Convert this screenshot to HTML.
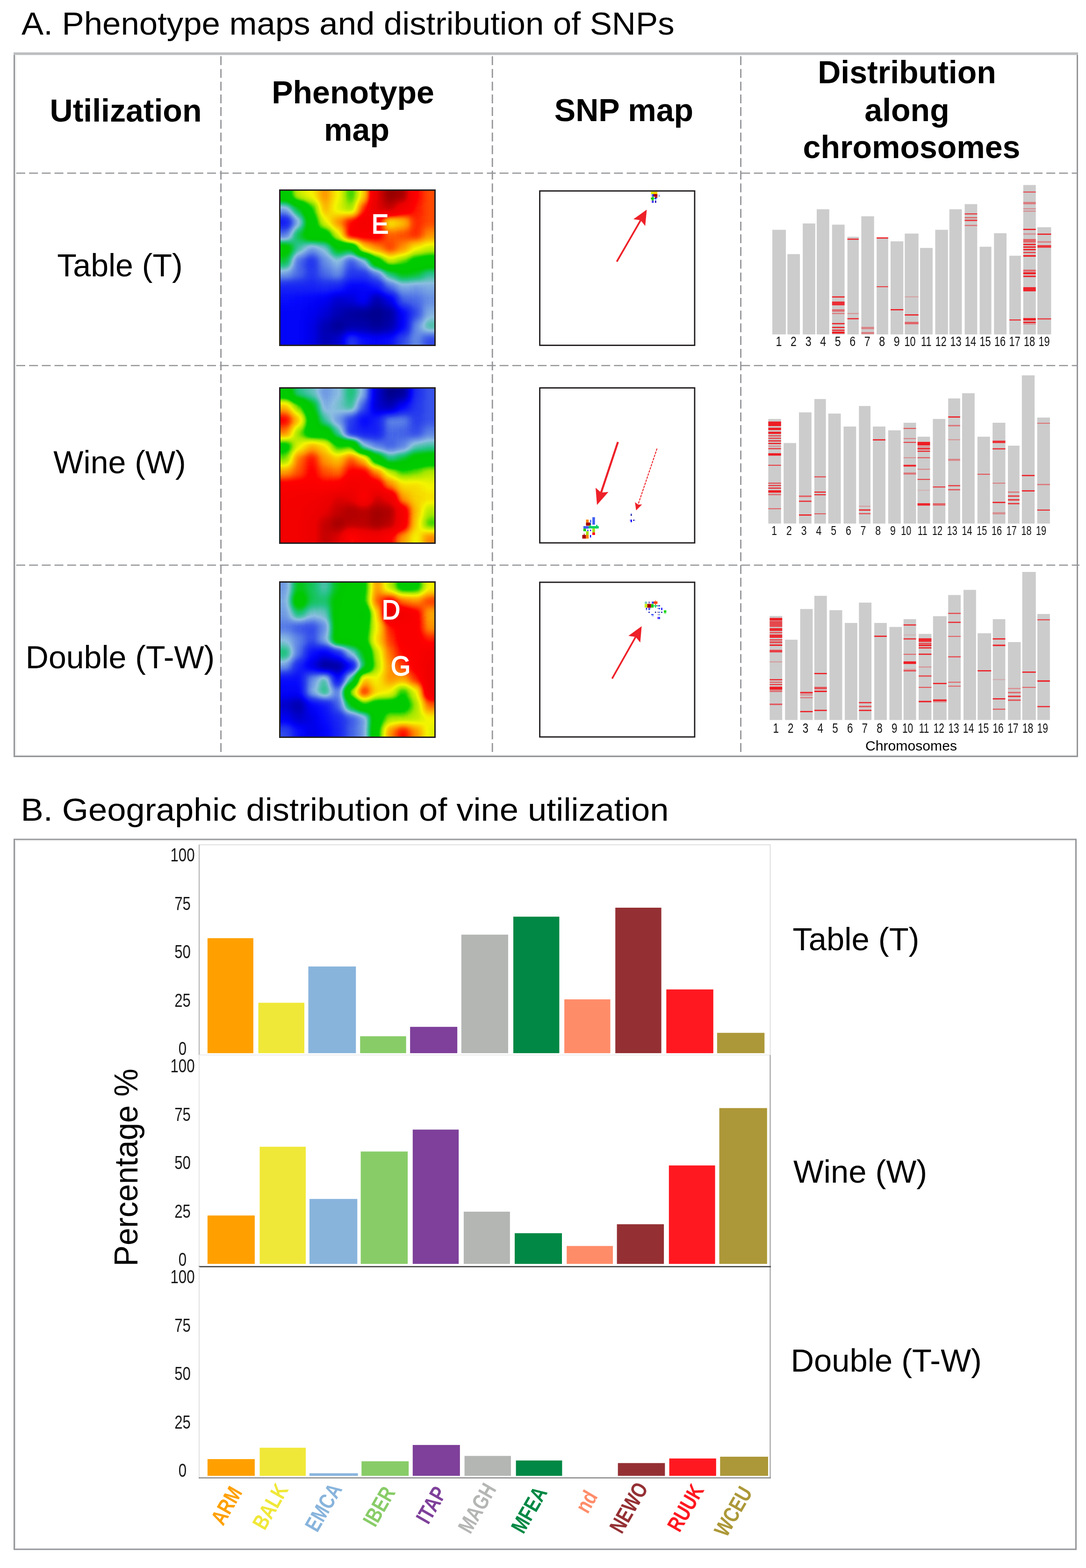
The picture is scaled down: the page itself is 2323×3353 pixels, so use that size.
<!DOCTYPE html>
<html lang="en"><head><meta charset="utf-8"><title>Phenotype maps and distribution of SNPs</title>
<style>
html,body{margin:0;padding:0;background:#fff;overflow:hidden}
svg{display:block}
text{font-family:'Liberation Sans', sans-serif}
</style></head><body>
<svg width="2323" height="3353" viewBox="0 0 2323 3353">
<rect width="2323" height="3353" fill="#fff"/>
<defs>
<filter id="cm" x="0" y="0" width="1" height="1" filterUnits="objectBoundingBox" color-interpolation-filters="sRGB"><feGaussianBlur stdDeviation="9"/><feComponentTransfer><feFuncR type="table" tableValues="0 0 0 0 0 0 0.02 0.069 0.118 0.167 0.255 0.353 0.451 0.549 0.353 0.157 0.078 0.029 0 0 0 0 0 0.314 0.627 0.794 0.961 0.975 0.989 1 1 1 1 0.98 0.961 0.941 0.922 0.838 0.755 0.672 0.588"/><feFuncG type="table" tableValues="0 0 0 0 0 0 0.031 0.107 0.183 0.259 0.374 0.497 0.621 0.745 0.754 0.763 0.771 0.779 0.786 0.791 0.795 0.799 0.804 0.853 0.902 0.931 0.961 0.828 0.695 0.551 0.368 0.184 0 0 0 0 0 0 0 0 0"/><feFuncB type="table" tableValues="0.545 0.62 0.695 0.769 0.856 0.946 0.991 0.969 0.948 0.926 0.913 0.903 0.893 0.882 0.713 0.544 0.34 0.127 0 0 0 0 0 0 0 0 0 0 0 0 0 0 0 0 0 0 0 0 0 0 0"/><feFuncA type="linear" slope="0" intercept="1"/></feComponentTransfer></filter>
<filter id="cmi" x="0" y="0" width="1" height="1" filterUnits="objectBoundingBox" color-interpolation-filters="sRGB"><feGaussianBlur stdDeviation="9"/><feComponentTransfer><feFuncR type="table" tableValues="0.588 0.672 0.755 0.838 0.922 0.941 0.961 0.98 1 1 1 1 0.989 0.975 0.961 0.794 0.627 0.314 0 0 0 0 0 0.029 0.078 0.157 0.353 0.549 0.451 0.353 0.255 0.167 0.118 0.069 0.02 0 0 0 0 0 0"/><feFuncG type="table" tableValues="0 0 0 0 0 0 0 0 0 0.184 0.368 0.551 0.695 0.828 0.961 0.931 0.902 0.853 0.804 0.799 0.795 0.791 0.786 0.779 0.771 0.763 0.754 0.745 0.621 0.497 0.374 0.259 0.183 0.107 0.031 0 0 0 0 0 0"/><feFuncB type="table" tableValues="0 0 0 0 0 0 0 0 0 0 0 0 0 0 0 0 0 0 0 0 0 0 0 0.127 0.34 0.544 0.713 0.882 0.893 0.903 0.913 0.926 0.948 0.969 0.991 0.946 0.856 0.769 0.695 0.62 0.545"/><feFuncA type="linear" slope="0" intercept="1"/></feComponentTransfer></filter>
<g id="g1" shape-rendering="crispEdges"><rect x="-55.8" y="-55.8" width="28.4" height="28.4" fill="#808080"/><rect x="-27.9" y="-55.8" width="28.4" height="28.4" fill="#808080"/><rect x="0" y="-55.8" width="28.4" height="28.4" fill="#808080"/><rect x="27.9" y="-55.8" width="28.4" height="28.4" fill="#9f9f9f"/><rect x="55.8" y="-55.8" width="28.4" height="28.4" fill="#a6a6a6"/><rect x="83.8" y="-55.8" width="28.4" height="28.4" fill="#b8b8b8"/><rect x="111.7" y="-55.8" width="28.4" height="28.4" fill="#a6a6a6"/><rect x="139.6" y="-55.8" width="28.4" height="28.4" fill="#8f8f8f"/><rect x="167.5" y="-55.8" width="28.4" height="28.4" fill="#adadad"/><rect x="195.4" y="-55.8" width="28.4" height="28.4" fill="#e8e8e8"/><rect x="223.3" y="-55.8" width="28.4" height="28.4" fill="#ffffff"/><rect x="251.2" y="-55.8" width="28.4" height="28.4" fill="#fafafa"/><rect x="279.2" y="-55.8" width="28.4" height="28.4" fill="#cccccc"/><rect x="307.1" y="-55.8" width="28.4" height="28.4" fill="#c2c2c2"/><rect x="335" y="-55.8" width="28.4" height="28.4" fill="#c2c2c2"/><rect x="362.9" y="-55.8" width="28.4" height="28.4" fill="#c2c2c2"/><rect x="-55.8" y="-27.9" width="28.4" height="28.4" fill="#808080"/><rect x="-27.9" y="-27.9" width="28.4" height="28.4" fill="#808080"/><rect x="0" y="-27.9" width="28.4" height="28.4" fill="#808080"/><rect x="27.9" y="-27.9" width="28.4" height="28.4" fill="#9f9f9f"/><rect x="55.8" y="-27.9" width="28.4" height="28.4" fill="#a6a6a6"/><rect x="83.8" y="-27.9" width="28.4" height="28.4" fill="#b8b8b8"/><rect x="111.7" y="-27.9" width="28.4" height="28.4" fill="#a6a6a6"/><rect x="139.6" y="-27.9" width="28.4" height="28.4" fill="#8f8f8f"/><rect x="167.5" y="-27.9" width="28.4" height="28.4" fill="#adadad"/><rect x="195.4" y="-27.9" width="28.4" height="28.4" fill="#e8e8e8"/><rect x="223.3" y="-27.9" width="28.4" height="28.4" fill="#ffffff"/><rect x="251.2" y="-27.9" width="28.4" height="28.4" fill="#fafafa"/><rect x="279.2" y="-27.9" width="28.4" height="28.4" fill="#cccccc"/><rect x="307.1" y="-27.9" width="28.4" height="28.4" fill="#c2c2c2"/><rect x="335" y="-27.9" width="28.4" height="28.4" fill="#c2c2c2"/><rect x="362.9" y="-27.9" width="28.4" height="28.4" fill="#c2c2c2"/><rect x="-55.8" y="0" width="28.4" height="28.4" fill="#808080"/><rect x="-27.9" y="0" width="28.4" height="28.4" fill="#808080"/><rect x="0" y="0" width="28.4" height="28.4" fill="#808080"/><rect x="27.9" y="0" width="28.4" height="28.4" fill="#9f9f9f"/><rect x="55.8" y="0" width="28.4" height="28.4" fill="#a6a6a6"/><rect x="83.8" y="0" width="28.4" height="28.4" fill="#b8b8b8"/><rect x="111.7" y="0" width="28.4" height="28.4" fill="#a6a6a6"/><rect x="139.6" y="0" width="28.4" height="28.4" fill="#8f8f8f"/><rect x="167.5" y="0" width="28.4" height="28.4" fill="#adadad"/><rect x="195.4" y="0" width="28.4" height="28.4" fill="#e8e8e8"/><rect x="223.3" y="0" width="28.4" height="28.4" fill="#ffffff"/><rect x="251.2" y="0" width="28.4" height="28.4" fill="#fafafa"/><rect x="279.2" y="0" width="28.4" height="28.4" fill="#cccccc"/><rect x="307.1" y="0" width="28.4" height="28.4" fill="#c2c2c2"/><rect x="335" y="0" width="28.4" height="28.4" fill="#c2c2c2"/><rect x="362.9" y="0" width="28.4" height="28.4" fill="#c2c2c2"/><rect x="-55.8" y="27.9" width="28.4" height="28.4" fill="#4e4e4e"/><rect x="-27.9" y="27.9" width="28.4" height="28.4" fill="#4e4e4e"/><rect x="0" y="27.9" width="28.4" height="28.4" fill="#4e4e4e"/><rect x="27.9" y="27.9" width="28.4" height="28.4" fill="#6b6b6b"/><rect x="55.8" y="27.9" width="28.4" height="28.4" fill="#8c8c8c"/><rect x="83.8" y="27.9" width="28.4" height="28.4" fill="#b2b2b2"/><rect x="111.7" y="27.9" width="28.4" height="28.4" fill="#a2a2a2"/><rect x="139.6" y="27.9" width="28.4" height="28.4" fill="#999999"/><rect x="167.5" y="27.9" width="28.4" height="28.4" fill="#c7c7c7"/><rect x="195.4" y="27.9" width="28.4" height="28.4" fill="#e8e8e8"/><rect x="223.3" y="27.9" width="28.4" height="28.4" fill="#f1f1f1"/><rect x="251.2" y="27.9" width="28.4" height="28.4" fill="#dadada"/><rect x="279.2" y="27.9" width="28.4" height="28.4" fill="#c9c9c9"/><rect x="307.1" y="27.9" width="28.4" height="28.4" fill="#c2c2c2"/><rect x="335" y="27.9" width="28.4" height="28.4" fill="#c2c2c2"/><rect x="362.9" y="27.9" width="28.4" height="28.4" fill="#c2c2c2"/><rect x="-55.8" y="55.8" width="28.4" height="28.4" fill="#2b2b2b"/><rect x="-27.9" y="55.8" width="28.4" height="28.4" fill="#2b2b2b"/><rect x="0" y="55.8" width="28.4" height="28.4" fill="#2b2b2b"/><rect x="27.9" y="55.8" width="28.4" height="28.4" fill="#505050"/><rect x="55.8" y="55.8" width="28.4" height="28.4" fill="#808080"/><rect x="83.8" y="55.8" width="28.4" height="28.4" fill="#a3a3a3"/><rect x="111.7" y="55.8" width="28.4" height="28.4" fill="#b8b8b8"/><rect x="139.6" y="55.8" width="28.4" height="28.4" fill="#cccccc"/><rect x="167.5" y="55.8" width="28.4" height="28.4" fill="#dadada"/><rect x="195.4" y="55.8" width="28.4" height="28.4" fill="#d1d1d1"/><rect x="223.3" y="55.8" width="28.4" height="28.4" fill="#a6a6a6"/><rect x="251.2" y="55.8" width="28.4" height="28.4" fill="#afafaf"/><rect x="279.2" y="55.8" width="28.4" height="28.4" fill="#c7c7c7"/><rect x="307.1" y="55.8" width="28.4" height="28.4" fill="#c2c2c2"/><rect x="335" y="55.8" width="28.4" height="28.4" fill="#c2c2c2"/><rect x="362.9" y="55.8" width="28.4" height="28.4" fill="#c2c2c2"/><rect x="-55.8" y="83.8" width="28.4" height="28.4" fill="#454545"/><rect x="-27.9" y="83.8" width="28.4" height="28.4" fill="#454545"/><rect x="0" y="83.8" width="28.4" height="28.4" fill="#454545"/><rect x="27.9" y="83.8" width="28.4" height="28.4" fill="#696969"/><rect x="55.8" y="83.8" width="28.4" height="28.4" fill="#808080"/><rect x="83.8" y="83.8" width="28.4" height="28.4" fill="#808080"/><rect x="111.7" y="83.8" width="28.4" height="28.4" fill="#a1a1a1"/><rect x="139.6" y="83.8" width="28.4" height="28.4" fill="#d1d1d1"/><rect x="167.5" y="83.8" width="28.4" height="28.4" fill="#d1d1d1"/><rect x="195.4" y="83.8" width="28.4" height="28.4" fill="#d1d1d1"/><rect x="223.3" y="83.8" width="28.4" height="28.4" fill="#bfbfbf"/><rect x="251.2" y="83.8" width="28.4" height="28.4" fill="#c2c2c2"/><rect x="279.2" y="83.8" width="28.4" height="28.4" fill="#c7c7c7"/><rect x="307.1" y="83.8" width="28.4" height="28.4" fill="#b8b8b8"/><rect x="335" y="83.8" width="28.4" height="28.4" fill="#b8b8b8"/><rect x="362.9" y="83.8" width="28.4" height="28.4" fill="#b8b8b8"/><rect x="-55.8" y="111.7" width="28.4" height="28.4" fill="#7b7b7b"/><rect x="-27.9" y="111.7" width="28.4" height="28.4" fill="#7b7b7b"/><rect x="0" y="111.7" width="28.4" height="28.4" fill="#7b7b7b"/><rect x="27.9" y="111.7" width="28.4" height="28.4" fill="#5c5c5c"/><rect x="55.8" y="111.7" width="28.4" height="28.4" fill="#4c4c4c"/><rect x="83.8" y="111.7" width="28.4" height="28.4" fill="#555555"/><rect x="111.7" y="111.7" width="28.4" height="28.4" fill="#737373"/><rect x="139.6" y="111.7" width="28.4" height="28.4" fill="#6f6f6f"/><rect x="167.5" y="111.7" width="28.4" height="28.4" fill="#ababab"/><rect x="195.4" y="111.7" width="28.4" height="28.4" fill="#b8b8b8"/><rect x="223.3" y="111.7" width="28.4" height="28.4" fill="#c4c4c4"/><rect x="251.2" y="111.7" width="28.4" height="28.4" fill="#b8b8b8"/><rect x="279.2" y="111.7" width="28.4" height="28.4" fill="#a6a6a6"/><rect x="307.1" y="111.7" width="28.4" height="28.4" fill="#9f9f9f"/><rect x="335" y="111.7" width="28.4" height="28.4" fill="#9f9f9f"/><rect x="362.9" y="111.7" width="28.4" height="28.4" fill="#9f9f9f"/><rect x="-55.8" y="139.6" width="28.4" height="28.4" fill="#696969"/><rect x="-27.9" y="139.6" width="28.4" height="28.4" fill="#696969"/><rect x="0" y="139.6" width="28.4" height="28.4" fill="#696969"/><rect x="27.9" y="139.6" width="28.4" height="28.4" fill="#424242"/><rect x="55.8" y="139.6" width="28.4" height="28.4" fill="#343434"/><rect x="83.8" y="139.6" width="28.4" height="28.4" fill="#494949"/><rect x="111.7" y="139.6" width="28.4" height="28.4" fill="#535353"/><rect x="139.6" y="139.6" width="28.4" height="28.4" fill="#3e3e3e"/><rect x="167.5" y="139.6" width="28.4" height="28.4" fill="#4f4f4f"/><rect x="195.4" y="139.6" width="28.4" height="28.4" fill="#828282"/><rect x="223.3" y="139.6" width="28.4" height="28.4" fill="#9e9e9e"/><rect x="251.2" y="139.6" width="28.4" height="28.4" fill="#949494"/><rect x="279.2" y="139.6" width="28.4" height="28.4" fill="#858585"/><rect x="307.1" y="139.6" width="28.4" height="28.4" fill="#808080"/><rect x="335" y="139.6" width="28.4" height="28.4" fill="#808080"/><rect x="362.9" y="139.6" width="28.4" height="28.4" fill="#808080"/><rect x="-55.8" y="167.5" width="28.4" height="28.4" fill="#4c4c4c"/><rect x="-27.9" y="167.5" width="28.4" height="28.4" fill="#4c4c4c"/><rect x="0" y="167.5" width="28.4" height="28.4" fill="#4c4c4c"/><rect x="27.9" y="167.5" width="28.4" height="28.4" fill="#424242"/><rect x="55.8" y="167.5" width="28.4" height="28.4" fill="#363636"/><rect x="83.8" y="167.5" width="28.4" height="28.4" fill="#424242"/><rect x="111.7" y="167.5" width="28.4" height="28.4" fill="#494949"/><rect x="139.6" y="167.5" width="28.4" height="28.4" fill="#363636"/><rect x="167.5" y="167.5" width="28.4" height="28.4" fill="#363636"/><rect x="195.4" y="167.5" width="28.4" height="28.4" fill="#454545"/><rect x="223.3" y="167.5" width="28.4" height="28.4" fill="#616161"/><rect x="251.2" y="167.5" width="28.4" height="28.4" fill="#6f6f6f"/><rect x="279.2" y="167.5" width="28.4" height="28.4" fill="#6b6b6b"/><rect x="307.1" y="167.5" width="28.4" height="28.4" fill="#5e5e5e"/><rect x="335" y="167.5" width="28.4" height="28.4" fill="#5e5e5e"/><rect x="362.9" y="167.5" width="28.4" height="28.4" fill="#5e5e5e"/><rect x="-55.8" y="195.4" width="28.4" height="28.4" fill="#2f2f2f"/><rect x="-27.9" y="195.4" width="28.4" height="28.4" fill="#2f2f2f"/><rect x="0" y="195.4" width="28.4" height="28.4" fill="#2f2f2f"/><rect x="27.9" y="195.4" width="28.4" height="28.4" fill="#2f2f2f"/><rect x="55.8" y="195.4" width="28.4" height="28.4" fill="#2f2f2f"/><rect x="83.8" y="195.4" width="28.4" height="28.4" fill="#313131"/><rect x="111.7" y="195.4" width="28.4" height="28.4" fill="#2f2f2f"/><rect x="139.6" y="195.4" width="28.4" height="28.4" fill="#242424"/><rect x="167.5" y="195.4" width="28.4" height="28.4" fill="#242424"/><rect x="195.4" y="195.4" width="28.4" height="28.4" fill="#2b2b2b"/><rect x="223.3" y="195.4" width="28.4" height="28.4" fill="#424242"/><rect x="251.2" y="195.4" width="28.4" height="28.4" fill="#4f4f4f"/><rect x="279.2" y="195.4" width="28.4" height="28.4" fill="#4c4c4c"/><rect x="307.1" y="195.4" width="28.4" height="28.4" fill="#4f4f4f"/><rect x="335" y="195.4" width="28.4" height="28.4" fill="#4f4f4f"/><rect x="362.9" y="195.4" width="28.4" height="28.4" fill="#4f4f4f"/><rect x="-55.8" y="223.3" width="28.4" height="28.4" fill="#282828"/><rect x="-27.9" y="223.3" width="28.4" height="28.4" fill="#282828"/><rect x="0" y="223.3" width="28.4" height="28.4" fill="#282828"/><rect x="27.9" y="223.3" width="28.4" height="28.4" fill="#262626"/><rect x="55.8" y="223.3" width="28.4" height="28.4" fill="#242424"/><rect x="83.8" y="223.3" width="28.4" height="28.4" fill="#202020"/><rect x="111.7" y="223.3" width="28.4" height="28.4" fill="#151515"/><rect x="139.6" y="223.3" width="28.4" height="28.4" fill="#191919"/><rect x="167.5" y="223.3" width="28.4" height="28.4" fill="#242424"/><rect x="195.4" y="223.3" width="28.4" height="28.4" fill="#0b0b0b"/><rect x="223.3" y="223.3" width="28.4" height="28.4" fill="#1d1d1d"/><rect x="251.2" y="223.3" width="28.4" height="28.4" fill="#404040"/><rect x="279.2" y="223.3" width="28.4" height="28.4" fill="#424242"/><rect x="307.1" y="223.3" width="28.4" height="28.4" fill="#494949"/><rect x="335" y="223.3" width="28.4" height="28.4" fill="#494949"/><rect x="362.9" y="223.3" width="28.4" height="28.4" fill="#494949"/><rect x="-55.8" y="251.2" width="28.4" height="28.4" fill="#242424"/><rect x="-27.9" y="251.2" width="28.4" height="28.4" fill="#242424"/><rect x="0" y="251.2" width="28.4" height="28.4" fill="#242424"/><rect x="27.9" y="251.2" width="28.4" height="28.4" fill="#242424"/><rect x="55.8" y="251.2" width="28.4" height="28.4" fill="#202020"/><rect x="83.8" y="251.2" width="28.4" height="28.4" fill="#191919"/><rect x="111.7" y="251.2" width="28.4" height="28.4" fill="#0e0e0e"/><rect x="139.6" y="251.2" width="28.4" height="28.4" fill="#070707"/><rect x="167.5" y="251.2" width="28.4" height="28.4" fill="#040404"/><rect x="195.4" y="251.2" width="28.4" height="28.4" fill="#000000"/><rect x="223.3" y="251.2" width="28.4" height="28.4" fill="#070707"/><rect x="251.2" y="251.2" width="28.4" height="28.4" fill="#242424"/><rect x="279.2" y="251.2" width="28.4" height="28.4" fill="#3b3b3b"/><rect x="307.1" y="251.2" width="28.4" height="28.4" fill="#505050"/><rect x="335" y="251.2" width="28.4" height="28.4" fill="#505050"/><rect x="362.9" y="251.2" width="28.4" height="28.4" fill="#505050"/><rect x="-55.8" y="279.2" width="28.4" height="28.4" fill="#242424"/><rect x="-27.9" y="279.2" width="28.4" height="28.4" fill="#242424"/><rect x="0" y="279.2" width="28.4" height="28.4" fill="#242424"/><rect x="27.9" y="279.2" width="28.4" height="28.4" fill="#242424"/><rect x="55.8" y="279.2" width="28.4" height="28.4" fill="#1d1d1d"/><rect x="83.8" y="279.2" width="28.4" height="28.4" fill="#0e0e0e"/><rect x="111.7" y="279.2" width="28.4" height="28.4" fill="#040404"/><rect x="139.6" y="279.2" width="28.4" height="28.4" fill="#0b0b0b"/><rect x="167.5" y="279.2" width="28.4" height="28.4" fill="#0b0b0b"/><rect x="195.4" y="279.2" width="28.4" height="28.4" fill="#040404"/><rect x="223.3" y="279.2" width="28.4" height="28.4" fill="#0b0b0b"/><rect x="251.2" y="279.2" width="28.4" height="28.4" fill="#242424"/><rect x="279.2" y="279.2" width="28.4" height="28.4" fill="#494949"/><rect x="307.1" y="279.2" width="28.4" height="28.4" fill="#5c5c5c"/><rect x="335" y="279.2" width="28.4" height="28.4" fill="#5c5c5c"/><rect x="362.9" y="279.2" width="28.4" height="28.4" fill="#5c5c5c"/><rect x="-55.8" y="307.1" width="28.4" height="28.4" fill="#242424"/><rect x="-27.9" y="307.1" width="28.4" height="28.4" fill="#242424"/><rect x="0" y="307.1" width="28.4" height="28.4" fill="#242424"/><rect x="27.9" y="307.1" width="28.4" height="28.4" fill="#242424"/><rect x="55.8" y="307.1" width="28.4" height="28.4" fill="#1d1d1d"/><rect x="83.8" y="307.1" width="28.4" height="28.4" fill="#0e0e0e"/><rect x="111.7" y="307.1" width="28.4" height="28.4" fill="#151515"/><rect x="139.6" y="307.1" width="28.4" height="28.4" fill="#363636"/><rect x="167.5" y="307.1" width="28.4" height="28.4" fill="#282828"/><rect x="195.4" y="307.1" width="28.4" height="28.4" fill="#242424"/><rect x="223.3" y="307.1" width="28.4" height="28.4" fill="#282828"/><rect x="251.2" y="307.1" width="28.4" height="28.4" fill="#3b3b3b"/><rect x="279.2" y="307.1" width="28.4" height="28.4" fill="#494949"/><rect x="307.1" y="307.1" width="28.4" height="28.4" fill="#3b3b3b"/><rect x="335" y="307.1" width="28.4" height="28.4" fill="#3b3b3b"/><rect x="362.9" y="307.1" width="28.4" height="28.4" fill="#3b3b3b"/><rect x="-55.8" y="335" width="28.4" height="28.4" fill="#242424"/><rect x="-27.9" y="335" width="28.4" height="28.4" fill="#242424"/><rect x="0" y="335" width="28.4" height="28.4" fill="#242424"/><rect x="27.9" y="335" width="28.4" height="28.4" fill="#242424"/><rect x="55.8" y="335" width="28.4" height="28.4" fill="#1d1d1d"/><rect x="83.8" y="335" width="28.4" height="28.4" fill="#0e0e0e"/><rect x="111.7" y="335" width="28.4" height="28.4" fill="#151515"/><rect x="139.6" y="335" width="28.4" height="28.4" fill="#363636"/><rect x="167.5" y="335" width="28.4" height="28.4" fill="#282828"/><rect x="195.4" y="335" width="28.4" height="28.4" fill="#242424"/><rect x="223.3" y="335" width="28.4" height="28.4" fill="#282828"/><rect x="251.2" y="335" width="28.4" height="28.4" fill="#3b3b3b"/><rect x="279.2" y="335" width="28.4" height="28.4" fill="#494949"/><rect x="307.1" y="335" width="28.4" height="28.4" fill="#3b3b3b"/><rect x="335" y="335" width="28.4" height="28.4" fill="#3b3b3b"/><rect x="362.9" y="335" width="28.4" height="28.4" fill="#3b3b3b"/><rect x="-55.8" y="362.9" width="28.4" height="28.4" fill="#242424"/><rect x="-27.9" y="362.9" width="28.4" height="28.4" fill="#242424"/><rect x="0" y="362.9" width="28.4" height="28.4" fill="#242424"/><rect x="27.9" y="362.9" width="28.4" height="28.4" fill="#242424"/><rect x="55.8" y="362.9" width="28.4" height="28.4" fill="#1d1d1d"/><rect x="83.8" y="362.9" width="28.4" height="28.4" fill="#0e0e0e"/><rect x="111.7" y="362.9" width="28.4" height="28.4" fill="#151515"/><rect x="139.6" y="362.9" width="28.4" height="28.4" fill="#363636"/><rect x="167.5" y="362.9" width="28.4" height="28.4" fill="#282828"/><rect x="195.4" y="362.9" width="28.4" height="28.4" fill="#242424"/><rect x="223.3" y="362.9" width="28.4" height="28.4" fill="#282828"/><rect x="251.2" y="362.9" width="28.4" height="28.4" fill="#3b3b3b"/><rect x="279.2" y="362.9" width="28.4" height="28.4" fill="#494949"/><rect x="307.1" y="362.9" width="28.4" height="28.4" fill="#3b3b3b"/><rect x="335" y="362.9" width="28.4" height="28.4" fill="#3b3b3b"/><rect x="362.9" y="362.9" width="28.4" height="28.4" fill="#3b3b3b"/></g>
<g id="g2" shape-rendering="crispEdges"><rect x="-55.8" y="-55.8" width="28.4" height="28.4" fill="#808080"/><rect x="-27.9" y="-55.8" width="28.4" height="28.4" fill="#808080"/><rect x="0" y="-55.8" width="28.4" height="28.4" fill="#808080"/><rect x="27.9" y="-55.8" width="28.4" height="28.4" fill="#9f9f9f"/><rect x="55.8" y="-55.8" width="28.4" height="28.4" fill="#a6a6a6"/><rect x="83.8" y="-55.8" width="28.4" height="28.4" fill="#b4b4b4"/><rect x="111.7" y="-55.8" width="28.4" height="28.4" fill="#adadad"/><rect x="139.6" y="-55.8" width="28.4" height="28.4" fill="#9c9c9c"/><rect x="167.5" y="-55.8" width="28.4" height="28.4" fill="#b0b0b0"/><rect x="195.4" y="-55.8" width="28.4" height="28.4" fill="#e8e8e8"/><rect x="223.3" y="-55.8" width="28.4" height="28.4" fill="#ffffff"/><rect x="251.2" y="-55.8" width="28.4" height="28.4" fill="#fafafa"/><rect x="279.2" y="-55.8" width="28.4" height="28.4" fill="#cccccc"/><rect x="307.1" y="-55.8" width="28.4" height="28.4" fill="#c2c2c2"/><rect x="335" y="-55.8" width="28.4" height="28.4" fill="#c2c2c2"/><rect x="362.9" y="-55.8" width="28.4" height="28.4" fill="#c2c2c2"/><rect x="-55.8" y="-27.9" width="28.4" height="28.4" fill="#808080"/><rect x="-27.9" y="-27.9" width="28.4" height="28.4" fill="#808080"/><rect x="0" y="-27.9" width="28.4" height="28.4" fill="#808080"/><rect x="27.9" y="-27.9" width="28.4" height="28.4" fill="#9f9f9f"/><rect x="55.8" y="-27.9" width="28.4" height="28.4" fill="#a6a6a6"/><rect x="83.8" y="-27.9" width="28.4" height="28.4" fill="#b4b4b4"/><rect x="111.7" y="-27.9" width="28.4" height="28.4" fill="#adadad"/><rect x="139.6" y="-27.9" width="28.4" height="28.4" fill="#9c9c9c"/><rect x="167.5" y="-27.9" width="28.4" height="28.4" fill="#b0b0b0"/><rect x="195.4" y="-27.9" width="28.4" height="28.4" fill="#e8e8e8"/><rect x="223.3" y="-27.9" width="28.4" height="28.4" fill="#ffffff"/><rect x="251.2" y="-27.9" width="28.4" height="28.4" fill="#fafafa"/><rect x="279.2" y="-27.9" width="28.4" height="28.4" fill="#cccccc"/><rect x="307.1" y="-27.9" width="28.4" height="28.4" fill="#c2c2c2"/><rect x="335" y="-27.9" width="28.4" height="28.4" fill="#c2c2c2"/><rect x="362.9" y="-27.9" width="28.4" height="28.4" fill="#c2c2c2"/><rect x="-55.8" y="0" width="28.4" height="28.4" fill="#808080"/><rect x="-27.9" y="0" width="28.4" height="28.4" fill="#808080"/><rect x="0" y="0" width="28.4" height="28.4" fill="#808080"/><rect x="27.9" y="0" width="28.4" height="28.4" fill="#9f9f9f"/><rect x="55.8" y="0" width="28.4" height="28.4" fill="#a6a6a6"/><rect x="83.8" y="0" width="28.4" height="28.4" fill="#b4b4b4"/><rect x="111.7" y="0" width="28.4" height="28.4" fill="#adadad"/><rect x="139.6" y="0" width="28.4" height="28.4" fill="#9c9c9c"/><rect x="167.5" y="0" width="28.4" height="28.4" fill="#b0b0b0"/><rect x="195.4" y="0" width="28.4" height="28.4" fill="#e8e8e8"/><rect x="223.3" y="0" width="28.4" height="28.4" fill="#ffffff"/><rect x="251.2" y="0" width="28.4" height="28.4" fill="#fafafa"/><rect x="279.2" y="0" width="28.4" height="28.4" fill="#cccccc"/><rect x="307.1" y="0" width="28.4" height="28.4" fill="#c2c2c2"/><rect x="335" y="0" width="28.4" height="28.4" fill="#c2c2c2"/><rect x="362.9" y="0" width="28.4" height="28.4" fill="#c2c2c2"/><rect x="-55.8" y="27.9" width="28.4" height="28.4" fill="#4e4e4e"/><rect x="-27.9" y="27.9" width="28.4" height="28.4" fill="#4e4e4e"/><rect x="0" y="27.9" width="28.4" height="28.4" fill="#4e4e4e"/><rect x="27.9" y="27.9" width="28.4" height="28.4" fill="#6b6b6b"/><rect x="55.8" y="27.9" width="28.4" height="28.4" fill="#8c8c8c"/><rect x="83.8" y="27.9" width="28.4" height="28.4" fill="#b0b0b0"/><rect x="111.7" y="27.9" width="28.4" height="28.4" fill="#a9a9a9"/><rect x="139.6" y="27.9" width="28.4" height="28.4" fill="#a1a1a1"/><rect x="167.5" y="27.9" width="28.4" height="28.4" fill="#c2c2c2"/><rect x="195.4" y="27.9" width="28.4" height="28.4" fill="#e8e8e8"/><rect x="223.3" y="27.9" width="28.4" height="28.4" fill="#f1f1f1"/><rect x="251.2" y="27.9" width="28.4" height="28.4" fill="#dadada"/><rect x="279.2" y="27.9" width="28.4" height="28.4" fill="#c9c9c9"/><rect x="307.1" y="27.9" width="28.4" height="28.4" fill="#c2c2c2"/><rect x="335" y="27.9" width="28.4" height="28.4" fill="#c2c2c2"/><rect x="362.9" y="27.9" width="28.4" height="28.4" fill="#c2c2c2"/><rect x="-55.8" y="55.8" width="28.4" height="28.4" fill="#313131"/><rect x="-27.9" y="55.8" width="28.4" height="28.4" fill="#313131"/><rect x="0" y="55.8" width="28.4" height="28.4" fill="#313131"/><rect x="27.9" y="55.8" width="28.4" height="28.4" fill="#505050"/><rect x="55.8" y="55.8" width="28.4" height="28.4" fill="#808080"/><rect x="83.8" y="55.8" width="28.4" height="28.4" fill="#a3a3a3"/><rect x="111.7" y="55.8" width="28.4" height="28.4" fill="#b4b4b4"/><rect x="139.6" y="55.8" width="28.4" height="28.4" fill="#c7c7c7"/><rect x="167.5" y="55.8" width="28.4" height="28.4" fill="#dadada"/><rect x="195.4" y="55.8" width="28.4" height="28.4" fill="#d1d1d1"/><rect x="223.3" y="55.8" width="28.4" height="28.4" fill="#b8b8b8"/><rect x="251.2" y="55.8" width="28.4" height="28.4" fill="#b8b8b8"/><rect x="279.2" y="55.8" width="28.4" height="28.4" fill="#c7c7c7"/><rect x="307.1" y="55.8" width="28.4" height="28.4" fill="#c2c2c2"/><rect x="335" y="55.8" width="28.4" height="28.4" fill="#c2c2c2"/><rect x="362.9" y="55.8" width="28.4" height="28.4" fill="#c2c2c2"/><rect x="-55.8" y="83.8" width="28.4" height="28.4" fill="#454545"/><rect x="-27.9" y="83.8" width="28.4" height="28.4" fill="#454545"/><rect x="0" y="83.8" width="28.4" height="28.4" fill="#454545"/><rect x="27.9" y="83.8" width="28.4" height="28.4" fill="#696969"/><rect x="55.8" y="83.8" width="28.4" height="28.4" fill="#808080"/><rect x="83.8" y="83.8" width="28.4" height="28.4" fill="#808080"/><rect x="111.7" y="83.8" width="28.4" height="28.4" fill="#a1a1a1"/><rect x="139.6" y="83.8" width="28.4" height="28.4" fill="#cccccc"/><rect x="167.5" y="83.8" width="28.4" height="28.4" fill="#d1d1d1"/><rect x="195.4" y="83.8" width="28.4" height="28.4" fill="#d1d1d1"/><rect x="223.3" y="83.8" width="28.4" height="28.4" fill="#bdbdbd"/><rect x="251.2" y="83.8" width="28.4" height="28.4" fill="#bfbfbf"/><rect x="279.2" y="83.8" width="28.4" height="28.4" fill="#c4c4c4"/><rect x="307.1" y="83.8" width="28.4" height="28.4" fill="#b8b8b8"/><rect x="335" y="83.8" width="28.4" height="28.4" fill="#b8b8b8"/><rect x="362.9" y="83.8" width="28.4" height="28.4" fill="#b8b8b8"/><rect x="-55.8" y="111.7" width="28.4" height="28.4" fill="#7b7b7b"/><rect x="-27.9" y="111.7" width="28.4" height="28.4" fill="#7b7b7b"/><rect x="0" y="111.7" width="28.4" height="28.4" fill="#7b7b7b"/><rect x="27.9" y="111.7" width="28.4" height="28.4" fill="#5c5c5c"/><rect x="55.8" y="111.7" width="28.4" height="28.4" fill="#4c4c4c"/><rect x="83.8" y="111.7" width="28.4" height="28.4" fill="#555555"/><rect x="111.7" y="111.7" width="28.4" height="28.4" fill="#737373"/><rect x="139.6" y="111.7" width="28.4" height="28.4" fill="#6f6f6f"/><rect x="167.5" y="111.7" width="28.4" height="28.4" fill="#ababab"/><rect x="195.4" y="111.7" width="28.4" height="28.4" fill="#b8b8b8"/><rect x="223.3" y="111.7" width="28.4" height="28.4" fill="#bfbfbf"/><rect x="251.2" y="111.7" width="28.4" height="28.4" fill="#b8b8b8"/><rect x="279.2" y="111.7" width="28.4" height="28.4" fill="#a6a6a6"/><rect x="307.1" y="111.7" width="28.4" height="28.4" fill="#a3a3a3"/><rect x="335" y="111.7" width="28.4" height="28.4" fill="#a3a3a3"/><rect x="362.9" y="111.7" width="28.4" height="28.4" fill="#a3a3a3"/><rect x="-55.8" y="139.6" width="28.4" height="28.4" fill="#696969"/><rect x="-27.9" y="139.6" width="28.4" height="28.4" fill="#696969"/><rect x="0" y="139.6" width="28.4" height="28.4" fill="#696969"/><rect x="27.9" y="139.6" width="28.4" height="28.4" fill="#424242"/><rect x="55.8" y="139.6" width="28.4" height="28.4" fill="#343434"/><rect x="83.8" y="139.6" width="28.4" height="28.4" fill="#494949"/><rect x="111.7" y="139.6" width="28.4" height="28.4" fill="#505050"/><rect x="139.6" y="139.6" width="28.4" height="28.4" fill="#3e3e3e"/><rect x="167.5" y="139.6" width="28.4" height="28.4" fill="#4f4f4f"/><rect x="195.4" y="139.6" width="28.4" height="28.4" fill="#828282"/><rect x="223.3" y="139.6" width="28.4" height="28.4" fill="#9e9e9e"/><rect x="251.2" y="139.6" width="28.4" height="28.4" fill="#949494"/><rect x="279.2" y="139.6" width="28.4" height="28.4" fill="#858585"/><rect x="307.1" y="139.6" width="28.4" height="28.4" fill="#808080"/><rect x="335" y="139.6" width="28.4" height="28.4" fill="#808080"/><rect x="362.9" y="139.6" width="28.4" height="28.4" fill="#808080"/><rect x="-55.8" y="167.5" width="28.4" height="28.4" fill="#494949"/><rect x="-27.9" y="167.5" width="28.4" height="28.4" fill="#494949"/><rect x="0" y="167.5" width="28.4" height="28.4" fill="#494949"/><rect x="27.9" y="167.5" width="28.4" height="28.4" fill="#3e3e3e"/><rect x="55.8" y="167.5" width="28.4" height="28.4" fill="#313131"/><rect x="83.8" y="167.5" width="28.4" height="28.4" fill="#3e3e3e"/><rect x="111.7" y="167.5" width="28.4" height="28.4" fill="#424242"/><rect x="139.6" y="167.5" width="28.4" height="28.4" fill="#313131"/><rect x="167.5" y="167.5" width="28.4" height="28.4" fill="#313131"/><rect x="195.4" y="167.5" width="28.4" height="28.4" fill="#454545"/><rect x="223.3" y="167.5" width="28.4" height="28.4" fill="#616161"/><rect x="251.2" y="167.5" width="28.4" height="28.4" fill="#6f6f6f"/><rect x="279.2" y="167.5" width="28.4" height="28.4" fill="#6b6b6b"/><rect x="307.1" y="167.5" width="28.4" height="28.4" fill="#636363"/><rect x="335" y="167.5" width="28.4" height="28.4" fill="#636363"/><rect x="362.9" y="167.5" width="28.4" height="28.4" fill="#636363"/><rect x="-55.8" y="195.4" width="28.4" height="28.4" fill="#2f2f2f"/><rect x="-27.9" y="195.4" width="28.4" height="28.4" fill="#2f2f2f"/><rect x="0" y="195.4" width="28.4" height="28.4" fill="#2f2f2f"/><rect x="27.9" y="195.4" width="28.4" height="28.4" fill="#2f2f2f"/><rect x="55.8" y="195.4" width="28.4" height="28.4" fill="#2f2f2f"/><rect x="83.8" y="195.4" width="28.4" height="28.4" fill="#313131"/><rect x="111.7" y="195.4" width="28.4" height="28.4" fill="#2f2f2f"/><rect x="139.6" y="195.4" width="28.4" height="28.4" fill="#242424"/><rect x="167.5" y="195.4" width="28.4" height="28.4" fill="#282828"/><rect x="195.4" y="195.4" width="28.4" height="28.4" fill="#2b2b2b"/><rect x="223.3" y="195.4" width="28.4" height="28.4" fill="#454545"/><rect x="251.2" y="195.4" width="28.4" height="28.4" fill="#555555"/><rect x="279.2" y="195.4" width="28.4" height="28.4" fill="#555555"/><rect x="307.1" y="195.4" width="28.4" height="28.4" fill="#5a5a5a"/><rect x="335" y="195.4" width="28.4" height="28.4" fill="#5a5a5a"/><rect x="362.9" y="195.4" width="28.4" height="28.4" fill="#5a5a5a"/><rect x="-55.8" y="223.3" width="28.4" height="28.4" fill="#282828"/><rect x="-27.9" y="223.3" width="28.4" height="28.4" fill="#282828"/><rect x="0" y="223.3" width="28.4" height="28.4" fill="#282828"/><rect x="27.9" y="223.3" width="28.4" height="28.4" fill="#262626"/><rect x="55.8" y="223.3" width="28.4" height="28.4" fill="#242424"/><rect x="83.8" y="223.3" width="28.4" height="28.4" fill="#202020"/><rect x="111.7" y="223.3" width="28.4" height="28.4" fill="#151515"/><rect x="139.6" y="223.3" width="28.4" height="28.4" fill="#191919"/><rect x="167.5" y="223.3" width="28.4" height="28.4" fill="#313131"/><rect x="195.4" y="223.3" width="28.4" height="28.4" fill="#121212"/><rect x="223.3" y="223.3" width="28.4" height="28.4" fill="#1d1d1d"/><rect x="251.2" y="223.3" width="28.4" height="28.4" fill="#494949"/><rect x="279.2" y="223.3" width="28.4" height="28.4" fill="#535353"/><rect x="307.1" y="223.3" width="28.4" height="28.4" fill="#555555"/><rect x="335" y="223.3" width="28.4" height="28.4" fill="#555555"/><rect x="362.9" y="223.3" width="28.4" height="28.4" fill="#555555"/><rect x="-55.8" y="251.2" width="28.4" height="28.4" fill="#242424"/><rect x="-27.9" y="251.2" width="28.4" height="28.4" fill="#242424"/><rect x="0" y="251.2" width="28.4" height="28.4" fill="#242424"/><rect x="27.9" y="251.2" width="28.4" height="28.4" fill="#242424"/><rect x="55.8" y="251.2" width="28.4" height="28.4" fill="#202020"/><rect x="83.8" y="251.2" width="28.4" height="28.4" fill="#191919"/><rect x="111.7" y="251.2" width="28.4" height="28.4" fill="#0e0e0e"/><rect x="139.6" y="251.2" width="28.4" height="28.4" fill="#070707"/><rect x="167.5" y="251.2" width="28.4" height="28.4" fill="#0b0b0b"/><rect x="195.4" y="251.2" width="28.4" height="28.4" fill="#040404"/><rect x="223.3" y="251.2" width="28.4" height="28.4" fill="#070707"/><rect x="251.2" y="251.2" width="28.4" height="28.4" fill="#282828"/><rect x="279.2" y="251.2" width="28.4" height="28.4" fill="#4f4f4f"/><rect x="307.1" y="251.2" width="28.4" height="28.4" fill="#636363"/><rect x="335" y="251.2" width="28.4" height="28.4" fill="#636363"/><rect x="362.9" y="251.2" width="28.4" height="28.4" fill="#636363"/><rect x="-55.8" y="279.2" width="28.4" height="28.4" fill="#242424"/><rect x="-27.9" y="279.2" width="28.4" height="28.4" fill="#242424"/><rect x="0" y="279.2" width="28.4" height="28.4" fill="#242424"/><rect x="27.9" y="279.2" width="28.4" height="28.4" fill="#242424"/><rect x="55.8" y="279.2" width="28.4" height="28.4" fill="#1d1d1d"/><rect x="83.8" y="279.2" width="28.4" height="28.4" fill="#0e0e0e"/><rect x="111.7" y="279.2" width="28.4" height="28.4" fill="#040404"/><rect x="139.6" y="279.2" width="28.4" height="28.4" fill="#0b0b0b"/><rect x="167.5" y="279.2" width="28.4" height="28.4" fill="#0b0b0b"/><rect x="195.4" y="279.2" width="28.4" height="28.4" fill="#040404"/><rect x="223.3" y="279.2" width="28.4" height="28.4" fill="#0b0b0b"/><rect x="251.2" y="279.2" width="28.4" height="28.4" fill="#282828"/><rect x="279.2" y="279.2" width="28.4" height="28.4" fill="#525252"/><rect x="307.1" y="279.2" width="28.4" height="28.4" fill="#6f6f6f"/><rect x="335" y="279.2" width="28.4" height="28.4" fill="#6f6f6f"/><rect x="362.9" y="279.2" width="28.4" height="28.4" fill="#6f6f6f"/><rect x="-55.8" y="307.1" width="28.4" height="28.4" fill="#242424"/><rect x="-27.9" y="307.1" width="28.4" height="28.4" fill="#242424"/><rect x="0" y="307.1" width="28.4" height="28.4" fill="#242424"/><rect x="27.9" y="307.1" width="28.4" height="28.4" fill="#242424"/><rect x="55.8" y="307.1" width="28.4" height="28.4" fill="#1d1d1d"/><rect x="83.8" y="307.1" width="28.4" height="28.4" fill="#0e0e0e"/><rect x="111.7" y="307.1" width="28.4" height="28.4" fill="#151515"/><rect x="139.6" y="307.1" width="28.4" height="28.4" fill="#363636"/><rect x="167.5" y="307.1" width="28.4" height="28.4" fill="#282828"/><rect x="195.4" y="307.1" width="28.4" height="28.4" fill="#242424"/><rect x="223.3" y="307.1" width="28.4" height="28.4" fill="#313131"/><rect x="251.2" y="307.1" width="28.4" height="28.4" fill="#494949"/><rect x="279.2" y="307.1" width="28.4" height="28.4" fill="#5a5a5a"/><rect x="307.1" y="307.1" width="28.4" height="28.4" fill="#454545"/><rect x="335" y="307.1" width="28.4" height="28.4" fill="#454545"/><rect x="362.9" y="307.1" width="28.4" height="28.4" fill="#454545"/><rect x="-55.8" y="335" width="28.4" height="28.4" fill="#242424"/><rect x="-27.9" y="335" width="28.4" height="28.4" fill="#242424"/><rect x="0" y="335" width="28.4" height="28.4" fill="#242424"/><rect x="27.9" y="335" width="28.4" height="28.4" fill="#242424"/><rect x="55.8" y="335" width="28.4" height="28.4" fill="#1d1d1d"/><rect x="83.8" y="335" width="28.4" height="28.4" fill="#0e0e0e"/><rect x="111.7" y="335" width="28.4" height="28.4" fill="#151515"/><rect x="139.6" y="335" width="28.4" height="28.4" fill="#363636"/><rect x="167.5" y="335" width="28.4" height="28.4" fill="#282828"/><rect x="195.4" y="335" width="28.4" height="28.4" fill="#242424"/><rect x="223.3" y="335" width="28.4" height="28.4" fill="#313131"/><rect x="251.2" y="335" width="28.4" height="28.4" fill="#494949"/><rect x="279.2" y="335" width="28.4" height="28.4" fill="#5a5a5a"/><rect x="307.1" y="335" width="28.4" height="28.4" fill="#454545"/><rect x="335" y="335" width="28.4" height="28.4" fill="#454545"/><rect x="362.9" y="335" width="28.4" height="28.4" fill="#454545"/><rect x="-55.8" y="362.9" width="28.4" height="28.4" fill="#242424"/><rect x="-27.9" y="362.9" width="28.4" height="28.4" fill="#242424"/><rect x="0" y="362.9" width="28.4" height="28.4" fill="#242424"/><rect x="27.9" y="362.9" width="28.4" height="28.4" fill="#242424"/><rect x="55.8" y="362.9" width="28.4" height="28.4" fill="#1d1d1d"/><rect x="83.8" y="362.9" width="28.4" height="28.4" fill="#0e0e0e"/><rect x="111.7" y="362.9" width="28.4" height="28.4" fill="#151515"/><rect x="139.6" y="362.9" width="28.4" height="28.4" fill="#363636"/><rect x="167.5" y="362.9" width="28.4" height="28.4" fill="#282828"/><rect x="195.4" y="362.9" width="28.4" height="28.4" fill="#242424"/><rect x="223.3" y="362.9" width="28.4" height="28.4" fill="#313131"/><rect x="251.2" y="362.9" width="28.4" height="28.4" fill="#494949"/><rect x="279.2" y="362.9" width="28.4" height="28.4" fill="#5a5a5a"/><rect x="307.1" y="362.9" width="28.4" height="28.4" fill="#454545"/><rect x="335" y="362.9" width="28.4" height="28.4" fill="#454545"/><rect x="362.9" y="362.9" width="28.4" height="28.4" fill="#454545"/></g>
<g id="g3" shape-rendering="crispEdges"><rect x="-55.8" y="-55.8" width="28.4" height="28.4" fill="#4c4c4c"/><rect x="-27.9" y="-55.8" width="28.4" height="28.4" fill="#4c4c4c"/><rect x="0" y="-55.8" width="28.4" height="28.4" fill="#4c4c4c"/><rect x="27.9" y="-55.8" width="28.4" height="28.4" fill="#6f6f6f"/><rect x="55.8" y="-55.8" width="28.4" height="28.4" fill="#666666"/><rect x="83.8" y="-55.8" width="28.4" height="28.4" fill="#5a5a5a"/><rect x="111.7" y="-55.8" width="28.4" height="28.4" fill="#6f6f6f"/><rect x="139.6" y="-55.8" width="28.4" height="28.4" fill="#808080"/><rect x="167.5" y="-55.8" width="28.4" height="28.4" fill="#878787"/><rect x="195.4" y="-55.8" width="28.4" height="28.4" fill="#b8b8b8"/><rect x="223.3" y="-55.8" width="28.4" height="28.4" fill="#9d9d9d"/><rect x="251.2" y="-55.8" width="28.4" height="28.4" fill="#858585"/><rect x="279.2" y="-55.8" width="28.4" height="28.4" fill="#878787"/><rect x="307.1" y="-55.8" width="28.4" height="28.4" fill="#a6a6a6"/><rect x="335" y="-55.8" width="28.4" height="28.4" fill="#a6a6a6"/><rect x="362.9" y="-55.8" width="28.4" height="28.4" fill="#a6a6a6"/><rect x="-55.8" y="-27.9" width="28.4" height="28.4" fill="#4c4c4c"/><rect x="-27.9" y="-27.9" width="28.4" height="28.4" fill="#4c4c4c"/><rect x="0" y="-27.9" width="28.4" height="28.4" fill="#4c4c4c"/><rect x="27.9" y="-27.9" width="28.4" height="28.4" fill="#6f6f6f"/><rect x="55.8" y="-27.9" width="28.4" height="28.4" fill="#666666"/><rect x="83.8" y="-27.9" width="28.4" height="28.4" fill="#5a5a5a"/><rect x="111.7" y="-27.9" width="28.4" height="28.4" fill="#6f6f6f"/><rect x="139.6" y="-27.9" width="28.4" height="28.4" fill="#808080"/><rect x="167.5" y="-27.9" width="28.4" height="28.4" fill="#878787"/><rect x="195.4" y="-27.9" width="28.4" height="28.4" fill="#b8b8b8"/><rect x="223.3" y="-27.9" width="28.4" height="28.4" fill="#9d9d9d"/><rect x="251.2" y="-27.9" width="28.4" height="28.4" fill="#858585"/><rect x="279.2" y="-27.9" width="28.4" height="28.4" fill="#878787"/><rect x="307.1" y="-27.9" width="28.4" height="28.4" fill="#a6a6a6"/><rect x="335" y="-27.9" width="28.4" height="28.4" fill="#a6a6a6"/><rect x="362.9" y="-27.9" width="28.4" height="28.4" fill="#a6a6a6"/><rect x="-55.8" y="0" width="28.4" height="28.4" fill="#4c4c4c"/><rect x="-27.9" y="0" width="28.4" height="28.4" fill="#4c4c4c"/><rect x="0" y="0" width="28.4" height="28.4" fill="#4c4c4c"/><rect x="27.9" y="0" width="28.4" height="28.4" fill="#6f6f6f"/><rect x="55.8" y="0" width="28.4" height="28.4" fill="#666666"/><rect x="83.8" y="0" width="28.4" height="28.4" fill="#5a5a5a"/><rect x="111.7" y="0" width="28.4" height="28.4" fill="#6f6f6f"/><rect x="139.6" y="0" width="28.4" height="28.4" fill="#808080"/><rect x="167.5" y="0" width="28.4" height="28.4" fill="#878787"/><rect x="195.4" y="0" width="28.4" height="28.4" fill="#b8b8b8"/><rect x="223.3" y="0" width="28.4" height="28.4" fill="#9d9d9d"/><rect x="251.2" y="0" width="28.4" height="28.4" fill="#858585"/><rect x="279.2" y="0" width="28.4" height="28.4" fill="#878787"/><rect x="307.1" y="0" width="28.4" height="28.4" fill="#a6a6a6"/><rect x="335" y="0" width="28.4" height="28.4" fill="#a6a6a6"/><rect x="362.9" y="0" width="28.4" height="28.4" fill="#a6a6a6"/><rect x="-55.8" y="27.9" width="28.4" height="28.4" fill="#4f4f4f"/><rect x="-27.9" y="27.9" width="28.4" height="28.4" fill="#4f4f4f"/><rect x="0" y="27.9" width="28.4" height="28.4" fill="#4f4f4f"/><rect x="27.9" y="27.9" width="28.4" height="28.4" fill="#808080"/><rect x="55.8" y="27.9" width="28.4" height="28.4" fill="#666666"/><rect x="83.8" y="27.9" width="28.4" height="28.4" fill="#636363"/><rect x="111.7" y="27.9" width="28.4" height="28.4" fill="#777777"/><rect x="139.6" y="27.9" width="28.4" height="28.4" fill="#858585"/><rect x="167.5" y="27.9" width="28.4" height="28.4" fill="#8a8a8a"/><rect x="195.4" y="27.9" width="28.4" height="28.4" fill="#bfbfbf"/><rect x="223.3" y="27.9" width="28.4" height="28.4" fill="#d1d1d1"/><rect x="251.2" y="27.9" width="28.4" height="28.4" fill="#bdbdbd"/><rect x="279.2" y="27.9" width="28.4" height="28.4" fill="#b8b8b8"/><rect x="307.1" y="27.9" width="28.4" height="28.4" fill="#c4c4c4"/><rect x="335" y="27.9" width="28.4" height="28.4" fill="#c4c4c4"/><rect x="362.9" y="27.9" width="28.4" height="28.4" fill="#c4c4c4"/><rect x="-55.8" y="55.8" width="28.4" height="28.4" fill="#4c4c4c"/><rect x="-27.9" y="55.8" width="28.4" height="28.4" fill="#4c4c4c"/><rect x="0" y="55.8" width="28.4" height="28.4" fill="#4c4c4c"/><rect x="27.9" y="55.8" width="28.4" height="28.4" fill="#636363"/><rect x="55.8" y="55.8" width="28.4" height="28.4" fill="#555555"/><rect x="83.8" y="55.8" width="28.4" height="28.4" fill="#575757"/><rect x="111.7" y="55.8" width="28.4" height="28.4" fill="#7b7b7b"/><rect x="139.6" y="55.8" width="28.4" height="28.4" fill="#808080"/><rect x="167.5" y="55.8" width="28.4" height="28.4" fill="#737373"/><rect x="195.4" y="55.8" width="28.4" height="28.4" fill="#ababab"/><rect x="223.3" y="55.8" width="28.4" height="28.4" fill="#ededed"/><rect x="251.2" y="55.8" width="28.4" height="28.4" fill="#dadada"/><rect x="279.2" y="55.8" width="28.4" height="28.4" fill="#d1d1d1"/><rect x="307.1" y="55.8" width="28.4" height="28.4" fill="#b4b4b4"/><rect x="335" y="55.8" width="28.4" height="28.4" fill="#b4b4b4"/><rect x="362.9" y="55.8" width="28.4" height="28.4" fill="#b4b4b4"/><rect x="-55.8" y="83.8" width="28.4" height="28.4" fill="#454545"/><rect x="-27.9" y="83.8" width="28.4" height="28.4" fill="#454545"/><rect x="0" y="83.8" width="28.4" height="28.4" fill="#454545"/><rect x="27.9" y="83.8" width="28.4" height="28.4" fill="#3e3e3e"/><rect x="55.8" y="83.8" width="28.4" height="28.4" fill="#3b3b3b"/><rect x="83.8" y="83.8" width="28.4" height="28.4" fill="#494949"/><rect x="111.7" y="83.8" width="28.4" height="28.4" fill="#7b7b7b"/><rect x="139.6" y="83.8" width="28.4" height="28.4" fill="#808080"/><rect x="167.5" y="83.8" width="28.4" height="28.4" fill="#808080"/><rect x="195.4" y="83.8" width="28.4" height="28.4" fill="#a6a6a6"/><rect x="223.3" y="83.8" width="28.4" height="28.4" fill="#c9c9c9"/><rect x="251.2" y="83.8" width="28.4" height="28.4" fill="#d1d1d1"/><rect x="279.2" y="83.8" width="28.4" height="28.4" fill="#d1d1d1"/><rect x="307.1" y="83.8" width="28.4" height="28.4" fill="#b8b8b8"/><rect x="335" y="83.8" width="28.4" height="28.4" fill="#b8b8b8"/><rect x="362.9" y="83.8" width="28.4" height="28.4" fill="#b8b8b8"/><rect x="-55.8" y="111.7" width="28.4" height="28.4" fill="#535353"/><rect x="-27.9" y="111.7" width="28.4" height="28.4" fill="#535353"/><rect x="0" y="111.7" width="28.4" height="28.4" fill="#535353"/><rect x="27.9" y="111.7" width="28.4" height="28.4" fill="#474747"/><rect x="55.8" y="111.7" width="28.4" height="28.4" fill="#3b3b3b"/><rect x="83.8" y="111.7" width="28.4" height="28.4" fill="#4f4f4f"/><rect x="111.7" y="111.7" width="28.4" height="28.4" fill="#7b7b7b"/><rect x="139.6" y="111.7" width="28.4" height="28.4" fill="#7b7b7b"/><rect x="167.5" y="111.7" width="28.4" height="28.4" fill="#858585"/><rect x="195.4" y="111.7" width="28.4" height="28.4" fill="#ababab"/><rect x="223.3" y="111.7" width="28.4" height="28.4" fill="#c4c4c4"/><rect x="251.2" y="111.7" width="28.4" height="28.4" fill="#d1d1d1"/><rect x="279.2" y="111.7" width="28.4" height="28.4" fill="#d1d1d1"/><rect x="307.1" y="111.7" width="28.4" height="28.4" fill="#c9c9c9"/><rect x="335" y="111.7" width="28.4" height="28.4" fill="#c9c9c9"/><rect x="362.9" y="111.7" width="28.4" height="28.4" fill="#c9c9c9"/><rect x="-55.8" y="139.6" width="28.4" height="28.4" fill="#636363"/><rect x="-27.9" y="139.6" width="28.4" height="28.4" fill="#636363"/><rect x="0" y="139.6" width="28.4" height="28.4" fill="#636363"/><rect x="27.9" y="139.6" width="28.4" height="28.4" fill="#444444"/><rect x="55.8" y="139.6" width="28.4" height="28.4" fill="#282828"/><rect x="83.8" y="139.6" width="28.4" height="28.4" fill="#202020"/><rect x="111.7" y="139.6" width="28.4" height="28.4" fill="#2f2f2f"/><rect x="139.6" y="139.6" width="28.4" height="28.4" fill="#535353"/><rect x="167.5" y="139.6" width="28.4" height="28.4" fill="#6f6f6f"/><rect x="195.4" y="139.6" width="28.4" height="28.4" fill="#9d9d9d"/><rect x="223.3" y="139.6" width="28.4" height="28.4" fill="#bdbdbd"/><rect x="251.2" y="139.6" width="28.4" height="28.4" fill="#cccccc"/><rect x="279.2" y="139.6" width="28.4" height="28.4" fill="#d1d1d1"/><rect x="307.1" y="139.6" width="28.4" height="28.4" fill="#dadada"/><rect x="335" y="139.6" width="28.4" height="28.4" fill="#dadada"/><rect x="362.9" y="139.6" width="28.4" height="28.4" fill="#dadada"/><rect x="-55.8" y="167.5" width="28.4" height="28.4" fill="#4c4c4c"/><rect x="-27.9" y="167.5" width="28.4" height="28.4" fill="#4c4c4c"/><rect x="0" y="167.5" width="28.4" height="28.4" fill="#4c4c4c"/><rect x="27.9" y="167.5" width="28.4" height="28.4" fill="#2f2f2f"/><rect x="55.8" y="167.5" width="28.4" height="28.4" fill="#1d1d1d"/><rect x="83.8" y="167.5" width="28.4" height="28.4" fill="#040404"/><rect x="111.7" y="167.5" width="28.4" height="28.4" fill="#070707"/><rect x="139.6" y="167.5" width="28.4" height="28.4" fill="#242424"/><rect x="167.5" y="167.5" width="28.4" height="28.4" fill="#666666"/><rect x="195.4" y="167.5" width="28.4" height="28.4" fill="#999999"/><rect x="223.3" y="167.5" width="28.4" height="28.4" fill="#b8b8b8"/><rect x="251.2" y="167.5" width="28.4" height="28.4" fill="#c4c4c4"/><rect x="279.2" y="167.5" width="28.4" height="28.4" fill="#d1d1d1"/><rect x="307.1" y="167.5" width="28.4" height="28.4" fill="#dfdfdf"/><rect x="335" y="167.5" width="28.4" height="28.4" fill="#dfdfdf"/><rect x="362.9" y="167.5" width="28.4" height="28.4" fill="#dfdfdf"/><rect x="-55.8" y="195.4" width="28.4" height="28.4" fill="#282828"/><rect x="-27.9" y="195.4" width="28.4" height="28.4" fill="#282828"/><rect x="0" y="195.4" width="28.4" height="28.4" fill="#282828"/><rect x="27.9" y="195.4" width="28.4" height="28.4" fill="#282828"/><rect x="55.8" y="195.4" width="28.4" height="28.4" fill="#494949"/><rect x="83.8" y="195.4" width="28.4" height="28.4" fill="#5c5c5c"/><rect x="111.7" y="195.4" width="28.4" height="28.4" fill="#242424"/><rect x="139.6" y="195.4" width="28.4" height="28.4" fill="#5e5e5e"/><rect x="167.5" y="195.4" width="28.4" height="28.4" fill="#afafaf"/><rect x="195.4" y="195.4" width="28.4" height="28.4" fill="#a6a6a6"/><rect x="223.3" y="195.4" width="28.4" height="28.4" fill="#b8b8b8"/><rect x="251.2" y="195.4" width="28.4" height="28.4" fill="#b4b4b4"/><rect x="279.2" y="195.4" width="28.4" height="28.4" fill="#c7c7c7"/><rect x="307.1" y="195.4" width="28.4" height="28.4" fill="#dfdfdf"/><rect x="335" y="195.4" width="28.4" height="28.4" fill="#dfdfdf"/><rect x="362.9" y="195.4" width="28.4" height="28.4" fill="#dfdfdf"/><rect x="-55.8" y="223.3" width="28.4" height="28.4" fill="#242424"/><rect x="-27.9" y="223.3" width="28.4" height="28.4" fill="#242424"/><rect x="0" y="223.3" width="28.4" height="28.4" fill="#242424"/><rect x="27.9" y="223.3" width="28.4" height="28.4" fill="#242424"/><rect x="55.8" y="223.3" width="28.4" height="28.4" fill="#4f4f4f"/><rect x="83.8" y="223.3" width="28.4" height="28.4" fill="#616161"/><rect x="111.7" y="223.3" width="28.4" height="28.4" fill="#454545"/><rect x="139.6" y="223.3" width="28.4" height="28.4" fill="#999999"/><rect x="167.5" y="223.3" width="28.4" height="28.4" fill="#c9c9c9"/><rect x="195.4" y="223.3" width="28.4" height="28.4" fill="#ababab"/><rect x="223.3" y="223.3" width="28.4" height="28.4" fill="#a6a6a6"/><rect x="251.2" y="223.3" width="28.4" height="28.4" fill="#8c8c8c"/><rect x="279.2" y="223.3" width="28.4" height="28.4" fill="#a3a3a3"/><rect x="307.1" y="223.3" width="28.4" height="28.4" fill="#dfdfdf"/><rect x="335" y="223.3" width="28.4" height="28.4" fill="#dfdfdf"/><rect x="362.9" y="223.3" width="28.4" height="28.4" fill="#dfdfdf"/><rect x="-55.8" y="251.2" width="28.4" height="28.4" fill="#151515"/><rect x="-27.9" y="251.2" width="28.4" height="28.4" fill="#151515"/><rect x="0" y="251.2" width="28.4" height="28.4" fill="#151515"/><rect x="27.9" y="251.2" width="28.4" height="28.4" fill="#0b0b0b"/><rect x="55.8" y="251.2" width="28.4" height="28.4" fill="#242424"/><rect x="83.8" y="251.2" width="28.4" height="28.4" fill="#2b2b2b"/><rect x="111.7" y="251.2" width="28.4" height="28.4" fill="#404040"/><rect x="139.6" y="251.2" width="28.4" height="28.4" fill="#6f6f6f"/><rect x="167.5" y="251.2" width="28.4" height="28.4" fill="#8c8c8c"/><rect x="195.4" y="251.2" width="28.4" height="28.4" fill="#808080"/><rect x="223.3" y="251.2" width="28.4" height="28.4" fill="#808080"/><rect x="251.2" y="251.2" width="28.4" height="28.4" fill="#808080"/><rect x="279.2" y="251.2" width="28.4" height="28.4" fill="#999999"/><rect x="307.1" y="251.2" width="28.4" height="28.4" fill="#bfbfbf"/><rect x="335" y="251.2" width="28.4" height="28.4" fill="#bfbfbf"/><rect x="362.9" y="251.2" width="28.4" height="28.4" fill="#bfbfbf"/><rect x="-55.8" y="279.2" width="28.4" height="28.4" fill="#202020"/><rect x="-27.9" y="279.2" width="28.4" height="28.4" fill="#202020"/><rect x="0" y="279.2" width="28.4" height="28.4" fill="#202020"/><rect x="27.9" y="279.2" width="28.4" height="28.4" fill="#151515"/><rect x="55.8" y="279.2" width="28.4" height="28.4" fill="#1d1d1d"/><rect x="83.8" y="279.2" width="28.4" height="28.4" fill="#282828"/><rect x="111.7" y="279.2" width="28.4" height="28.4" fill="#313131"/><rect x="139.6" y="279.2" width="28.4" height="28.4" fill="#3e3e3e"/><rect x="167.5" y="279.2" width="28.4" height="28.4" fill="#4c4c4c"/><rect x="195.4" y="279.2" width="28.4" height="28.4" fill="#808080"/><rect x="223.3" y="279.2" width="28.4" height="28.4" fill="#999999"/><rect x="251.2" y="279.2" width="28.4" height="28.4" fill="#999999"/><rect x="279.2" y="279.2" width="28.4" height="28.4" fill="#9d9d9d"/><rect x="307.1" y="279.2" width="28.4" height="28.4" fill="#a6a6a6"/><rect x="335" y="279.2" width="28.4" height="28.4" fill="#a6a6a6"/><rect x="362.9" y="279.2" width="28.4" height="28.4" fill="#a6a6a6"/><rect x="-55.8" y="307.1" width="28.4" height="28.4" fill="#3b3b3b"/><rect x="-27.9" y="307.1" width="28.4" height="28.4" fill="#3b3b3b"/><rect x="0" y="307.1" width="28.4" height="28.4" fill="#3b3b3b"/><rect x="27.9" y="307.1" width="28.4" height="28.4" fill="#282828"/><rect x="55.8" y="307.1" width="28.4" height="28.4" fill="#1d1d1d"/><rect x="83.8" y="307.1" width="28.4" height="28.4" fill="#242424"/><rect x="111.7" y="307.1" width="28.4" height="28.4" fill="#2f2f2f"/><rect x="139.6" y="307.1" width="28.4" height="28.4" fill="#404040"/><rect x="167.5" y="307.1" width="28.4" height="28.4" fill="#4c4c4c"/><rect x="195.4" y="307.1" width="28.4" height="28.4" fill="#878787"/><rect x="223.3" y="307.1" width="28.4" height="28.4" fill="#b8b8b8"/><rect x="251.2" y="307.1" width="28.4" height="28.4" fill="#cccccc"/><rect x="279.2" y="307.1" width="28.4" height="28.4" fill="#b8b8b8"/><rect x="307.1" y="307.1" width="28.4" height="28.4" fill="#a3a3a3"/><rect x="335" y="307.1" width="28.4" height="28.4" fill="#a3a3a3"/><rect x="362.9" y="307.1" width="28.4" height="28.4" fill="#a3a3a3"/><rect x="-55.8" y="335" width="28.4" height="28.4" fill="#3b3b3b"/><rect x="-27.9" y="335" width="28.4" height="28.4" fill="#3b3b3b"/><rect x="0" y="335" width="28.4" height="28.4" fill="#3b3b3b"/><rect x="27.9" y="335" width="28.4" height="28.4" fill="#282828"/><rect x="55.8" y="335" width="28.4" height="28.4" fill="#1d1d1d"/><rect x="83.8" y="335" width="28.4" height="28.4" fill="#242424"/><rect x="111.7" y="335" width="28.4" height="28.4" fill="#2f2f2f"/><rect x="139.6" y="335" width="28.4" height="28.4" fill="#404040"/><rect x="167.5" y="335" width="28.4" height="28.4" fill="#4c4c4c"/><rect x="195.4" y="335" width="28.4" height="28.4" fill="#878787"/><rect x="223.3" y="335" width="28.4" height="28.4" fill="#b8b8b8"/><rect x="251.2" y="335" width="28.4" height="28.4" fill="#cccccc"/><rect x="279.2" y="335" width="28.4" height="28.4" fill="#b8b8b8"/><rect x="307.1" y="335" width="28.4" height="28.4" fill="#a3a3a3"/><rect x="335" y="335" width="28.4" height="28.4" fill="#a3a3a3"/><rect x="362.9" y="335" width="28.4" height="28.4" fill="#a3a3a3"/><rect x="-55.8" y="362.9" width="28.4" height="28.4" fill="#3b3b3b"/><rect x="-27.9" y="362.9" width="28.4" height="28.4" fill="#3b3b3b"/><rect x="0" y="362.9" width="28.4" height="28.4" fill="#3b3b3b"/><rect x="27.9" y="362.9" width="28.4" height="28.4" fill="#282828"/><rect x="55.8" y="362.9" width="28.4" height="28.4" fill="#1d1d1d"/><rect x="83.8" y="362.9" width="28.4" height="28.4" fill="#242424"/><rect x="111.7" y="362.9" width="28.4" height="28.4" fill="#2f2f2f"/><rect x="139.6" y="362.9" width="28.4" height="28.4" fill="#404040"/><rect x="167.5" y="362.9" width="28.4" height="28.4" fill="#4c4c4c"/><rect x="195.4" y="362.9" width="28.4" height="28.4" fill="#878787"/><rect x="223.3" y="362.9" width="28.4" height="28.4" fill="#b8b8b8"/><rect x="251.2" y="362.9" width="28.4" height="28.4" fill="#cccccc"/><rect x="279.2" y="362.9" width="28.4" height="28.4" fill="#b8b8b8"/><rect x="307.1" y="362.9" width="28.4" height="28.4" fill="#a3a3a3"/><rect x="335" y="362.9" width="28.4" height="28.4" fill="#a3a3a3"/><rect x="362.9" y="362.9" width="28.4" height="28.4" fill="#a3a3a3"/></g>
</defs>
<svg x="597" y="405" width="335" height="335" viewBox="0 0 335 335" overflow="hidden"><g filter="url(#cm)"><rect x="-60" y="-60" width="455" height="455" fill="#000"/><use href="#g1"/></g><rect x="1.5" y="1.5" width="332" height="332" fill="none" stroke="#231f20" stroke-width="3"/></svg>
<svg x="597" y="828" width="335" height="335" viewBox="0 0 335 335" overflow="hidden"><g filter="url(#cmi)"><rect x="-60" y="-60" width="455" height="455" fill="#000"/><use href="#g2"/></g><rect x="1.5" y="1.5" width="332" height="332" fill="none" stroke="#231f20" stroke-width="3"/></svg>
<svg x="597" y="1243" width="335" height="335" viewBox="0 0 335 335" overflow="hidden"><g filter="url(#cm)"><rect x="-60" y="-60" width="455" height="455" fill="#000"/><use href="#g3"/></g><rect x="1.5" y="1.5" width="332" height="332" fill="none" stroke="#231f20" stroke-width="3"/></svg>
<text transform="translate(813 499.2) scale(0.940 1)" font-size="57.5" fill="#fff" text-anchor="middle" stroke="#fff" stroke-width="2" stroke-linejoin="miter">E</text>
<text transform="translate(836.5 1323.5) scale(0.940 1)" font-size="57.5" fill="#fff" text-anchor="middle" stroke="#fff" stroke-width="2" stroke-linejoin="miter">D</text>
<text transform="translate(857 1443.5) scale(0.940 1)" font-size="57.5" fill="#fff" text-anchor="middle" stroke="#fff" stroke-width="2" stroke-linejoin="miter">G</text>
<text transform="translate(46 74) scale(1.041 1)" font-size="68" id="titleA">A. Phenotype maps and distribution of SNPs</text>
<path d="M30.5 115 V1617.5 H2304.5 V115" fill="none" stroke="#939598" stroke-width="3"/>
<rect x="29" y="112" width="2277" height="5.6" fill="#bcbec0"/>
<rect x="32" y="117.6" width="3" height="1498" fill="#f0f0f0"/>
<rect x="32" y="1613.6" width="2271" height="2.4" fill="#ececec"/>
<line x1="472.6" y1="120.3" x2="472.6" y2="1616" stroke="#939598" stroke-width="2.8" stroke-dasharray="19 8.2"/>
<line x1="1053.2" y1="120.3" x2="1053.2" y2="1616" stroke="#939598" stroke-width="2.8" stroke-dasharray="19 8.2"/>
<line x1="1584.6" y1="120.3" x2="1584.6" y2="1616" stroke="#939598" stroke-width="2.8" stroke-dasharray="19 8.2"/>
<line x1="35" y1="370.3" x2="2304" y2="370.3" stroke="#939598" stroke-width="2.5" stroke-dasharray="19 8.2"/>
<line x1="35" y1="781.8" x2="2304" y2="781.8" stroke="#939598" stroke-width="2.5" stroke-dasharray="19 8.2"/>
<line x1="35" y1="1208.5" x2="2309" y2="1208.5" stroke="#939598" stroke-width="2.5" stroke-dasharray="19 8.2"/>
<text transform="translate(269 259.5)" font-size="68" font-weight="bold" text-anchor="middle" id="hUtil">Utilization</text>
<text transform="translate(755 220.5)" font-size="68" font-weight="bold" text-anchor="middle" id="hPhen">Phenotype</text>
<text transform="translate(763 301)" font-size="68" font-weight="bold" text-anchor="middle" id="hMap">map</text>
<text transform="translate(1334.5 259)" font-size="68" font-weight="bold" text-anchor="middle" id="hSnp">SNP map</text>
<text transform="translate(1940 178)" font-size="68" font-weight="bold" text-anchor="middle" id="hDist">Distribution</text>
<text transform="translate(1940 259)" font-size="68" font-weight="bold" text-anchor="middle" id="hAlong">along</text>
<text transform="translate(1950 337.5)" font-size="68" font-weight="bold" text-anchor="middle" id="hChrom">chromosomes</text>
<text transform="translate(256.5 591)" font-size="68" text-anchor="middle" id="rT">Table (T)</text>
<text transform="translate(256 1012)" font-size="68" text-anchor="middle" id="rW">Wine (W)</text>
<text transform="translate(257 1428.5)" font-size="68" text-anchor="middle" id="rD">Double (T-W)</text>
<rect x="1154.6" y="408.3" width="331.3" height="330.1" fill="#fff" stroke="#1f1b1c" stroke-width="2.8"/>
<rect x="1154.6" y="829.5" width="331.3" height="331.4" fill="#fff" stroke="#1f1b1c" stroke-width="2.8"/>
<rect x="1154.6" y="1245.1" width="331.3" height="330.8" fill="#fff" stroke="#1f1b1c" stroke-width="2.8"/>
<rect x="1392.4" y="410" width="5.6" height="5.1" fill="#e0f000"/><rect x="1398" y="410" width="8.1" height="5.1" fill="#ffd000"/><rect x="1392.6" y="415" width="2.6" height="5.6" fill="#c8b8ff"/><rect x="1395.2" y="415" width="2.8" height="5.6" fill="#2040ff"/><rect x="1398" y="415" width="8.1" height="5.6" fill="#a80000"/><rect x="1400.8" y="420.7" width="5.3" height="2.3" fill="#a80000"/><rect x="1398" y="420.7" width="2.8" height="2.3" fill="#ffd8c0"/><rect x="1406.3" y="415.4" width="2.4" height="4.9" fill="#f4d0d8"/><rect x="1409.1" y="415.4" width="2.6" height="2.3" fill="#c8dcf4"/><rect x="1409.1" y="417.9" width="2.6" height="2.6" fill="#6090e0"/><rect x="1392.4" y="422.9" width="5.6" height="3.4" fill="#00c800"/><rect x="1395.2" y="420.7" width="2.8" height="8.3" fill="#00c800"/><rect x="1392.4" y="420.7" width="2.8" height="2.3" fill="#c0f080"/><rect x="1398" y="423.1" width="2.8" height="2.8" fill="#30e0c0"/><rect x="1400.8" y="423.1" width="3" height="2.8" fill="#0000ff"/><rect x="1403.8" y="423.3" width="2.3" height="2.6" fill="#80c0ff"/><rect x="1392.6" y="426.3" width="2.6" height="2.6" fill="#a0e880"/><rect x="1400.8" y="426.3" width="3" height="2.3" fill="#d0c8ff"/><rect x="1392.6" y="428.9" width="2.6" height="4.9" fill="#d8b0ff"/><rect x="1395.2" y="428.9" width="2.8" height="4.9" fill="#1010ff"/><rect x="1400.8" y="428.9" width="3" height="4.9" fill="#2818b8"/>
<line x1="1319.3" y1="559.5" x2="1370.4" y2="471" stroke="#ee2028" stroke-width="3.6"/><polygon fill="#ee2028" points="1383.5,448.3 1380.1,483.3 1370.4,471 1354.9,468.8"/>
<rect x="1267.1" y="1106" width="5.6" height="16" fill="#4060f0"/><rect x="1253.5" y="1111.1" width="5.6" height="6.1" fill="#ff8000"/><rect x="1262" y="1111.6" width="2.8" height="6.6" fill="#5070f0"/><rect x="1253.5" y="1117.3" width="8.5" height="7" fill="#a80000"/><rect x="1262" y="1119.1" width="2.3" height="2.8" fill="#000090"/><rect x="1247.9" y="1125" width="11.3" height="5.5" fill="#4060f0"/><rect x="1259.1" y="1125" width="21.6" height="5" fill="#00d060"/><rect x="1261.5" y="1122.4" width="2.8" height="2.5" fill="#00d060"/><rect x="1275.1" y="1122.4" width="2.8" height="8" fill="#00d060"/><rect x="1247.9" y="1130.4" width="5.6" height="5.6" fill="#00c800"/><rect x="1256.3" y="1132.8" width="2.3" height="2.8" fill="#0000ff"/><rect x="1262" y="1132.8" width="2.3" height="2.8" fill="#0000ff"/><rect x="1267.1" y="1130.2" width="5.6" height="7.9" fill="#a0e000"/><rect x="1253.5" y="1136.1" width="5.6" height="8" fill="#a0e000"/><rect x="1267.1" y="1138.4" width="5.6" height="5.6" fill="#ff0000"/><rect x="1245.5" y="1144" width="8" height="7.7" fill="#a80000"/><rect x="1248.3" y="1141.2" width="2.8" height="2.8" fill="#d06060"/><rect x="1253.5" y="1144" width="5.6" height="7.7" fill="#ff8000"/><rect x="1262" y="1144" width="2.3" height="5.4" fill="#0000ff"/><rect x="1348.9" y="1097.5" width="2.8" height="2.3" fill="#90a0e8"/><rect x="1348.9" y="1099.9" width="2.8" height="2.8" fill="#000090"/><rect x="1346.5" y="1111.1" width="2.3" height="2.8" fill="#c8a8ff"/><rect x="1348.9" y="1111.1" width="2.8" height="5.6" fill="#0000ff"/><rect x="1354.5" y="1111.1" width="2.3" height="2.8" fill="#200090"/><rect x="1357.3" y="1111.4" width="2.3" height="2.3" fill="#a8d0ff"/>
<line x1="1321.8" y1="945.1" x2="1285.8" y2="1053.3" stroke="#ee2028" stroke-width="4.3"/><polygon fill="#ee2028" points="1277,1079.8 1274,1043 1285.8,1053.3 1301.5,1052.1"/>
<line x1="1405.4" y1="959.2" x2="1364.9" y2="1079" stroke="#ee2028" stroke-width="2" stroke-dasharray="5 2"/><polygon fill="#ee2028" points="1360.7,1091.4 1358.2,1073.7 1364.9,1079 1373.4,1078.8"/>
<rect x="1379.2" y="1286.4" width="5.1" height="4.8" fill="#80c8b8"/><rect x="1387.1" y="1286.4" width="2.8" height="3.9" fill="#8060c0"/><rect x="1393" y="1286.4" width="2" height="4.5" fill="#c8a8ff"/><rect x="1395" y="1286.4" width="3.1" height="4.5" fill="#2040ff"/><rect x="1398.1" y="1286.1" width="8.2" height="5.1" fill="#ff4000"/><rect x="1400.9" y="1283.3" width="2.5" height="2.8" fill="#ffb090"/><rect x="1378.9" y="1291.4" width="5.6" height="7.9" fill="#c8f000"/><rect x="1384.5" y="1291.4" width="8.2" height="8.2" fill="#a80000"/><rect x="1393" y="1291.7" width="5.1" height="7.6" fill="#00d000"/><rect x="1400.9" y="1291.4" width="2.5" height="2.5" fill="#e06000"/><rect x="1398.6" y="1294" width="7.6" height="2.8" fill="#30d080"/><rect x="1400.9" y="1296.8" width="2.5" height="2.5" fill="#00d070"/><rect x="1406.2" y="1294.2" width="2.8" height="2.5" fill="#9060d0"/><rect x="1409.1" y="1294.2" width="2.8" height="2.5" fill="#0030e0"/><rect x="1381.7" y="1299.9" width="2.5" height="2.5" fill="#0000c0"/><rect x="1381.7" y="1302.4" width="2.5" height="2.3" fill="#5050e8"/><rect x="1387.1" y="1299.9" width="2.8" height="4.8" fill="#3030ff"/><rect x="1390.5" y="1300.2" width="2" height="2.5" fill="#90b0ff"/><rect x="1406.2" y="1299.9" width="2.8" height="2.3" fill="#b080e0"/><rect x="1409.1" y="1299.9" width="2.8" height="2.5" fill="#0040e0"/><rect x="1409.1" y="1302.7" width="2.8" height="1.7" fill="#b0c8ff"/><rect x="1414.1" y="1299.6" width="2.8" height="5.1" fill="#2020ff"/><rect x="1387.1" y="1308.1" width="2.8" height="2.3" fill="#0000c0"/><rect x="1400.9" y="1308.1" width="2.5" height="2.3" fill="#000080"/><rect x="1406.2" y="1308.1" width="2.8" height="2.3" fill="#a070b0"/><rect x="1409.1" y="1308.1" width="2.8" height="2.3" fill="#3070e0"/><rect x="1414.1" y="1308.1" width="2.8" height="2.3" fill="#0000b0"/><rect x="1420.1" y="1305.2" width="5.1" height="5.1" fill="#00d800"/><rect x="1420.1" y="1310.9" width="5.1" height="2" fill="#a0f0a0"/><rect x="1393" y="1313.1" width="5.1" height="2.5" fill="#3040ff"/><rect x="1395.2" y="1316.2" width="2.8" height="2.3" fill="#a8b8ff"/><rect x="1406.2" y="1313.4" width="2.8" height="2.3" fill="#c8a8c8"/><rect x="1409.1" y="1313.4" width="2.8" height="2.3" fill="#6090e0"/><rect x="1406.2" y="1319.1" width="2.8" height="4.8" fill="#8040ff"/><rect x="1409.1" y="1319.1" width="2.8" height="4.8" fill="#2040ff"/>
<line x1="1309.3" y1="1451.2" x2="1359.7" y2="1361.9" stroke="#ee2028" stroke-width="3.6"/><polygon fill="#ee2028" points="1372.6,1339.1 1369.5,1374.1 1359.7,1361.9 1344.2,1359.8"/>
<g>
<rect x="1652" y="491.4" width="29" height="223.7" fill="#cccccc"/>
<rect x="1684.3" y="543.4" width="26.8" height="171.7" fill="#cccccc"/>
<rect x="1717.1" y="477.8" width="26.8" height="237.3" fill="#cccccc"/>
<rect x="1747" y="447.5" width="26.8" height="267.6" fill="#cccccc"/>
<rect x="1779.8" y="480.4" width="26.8" height="234.8" fill="#cccccc"/>
<rect x="1779.8" y="633.7" width="26.8" height="2.6" fill="#ee1c23"/>
<rect x="1779.8" y="644.8" width="26.8" height="8.1" fill="#ee1c23" opacity="0.9"/>
<rect x="1779.8" y="661.4" width="26.8" height="5.1" fill="#ee1c23" opacity="0.55"/>
<rect x="1779.8" y="669.1" width="26.8" height="2.6" fill="#ee1c23" opacity="0.45"/>
<rect x="1779.8" y="690.8" width="26.8" height="2.6" fill="#ee1c23"/>
<rect x="1779.8" y="698.9" width="26.8" height="2.6" fill="#ee1c23"/>
<rect x="1779.8" y="704.9" width="26.8" height="2.6" fill="#ee1c23"/>
<rect x="1779.8" y="709.1" width="26.8" height="4.3" fill="#ee1c23"/>
<rect x="1812.6" y="506.3" width="24.3" height="208.8" fill="#cccccc"/>
<rect x="1812.6" y="510.2" width="24.3" height="2.6" fill="#ee1c23" opacity="0.9"/>
<rect x="1812.6" y="669.5" width="24.3" height="2.1" fill="#ee1c23" opacity="0.35"/>
<rect x="1812.6" y="680.2" width="24.3" height="2.6" fill="#ee1c23" opacity="0.9"/>
<rect x="1842.4" y="462.5" width="27.3" height="252.7" fill="#cccccc"/>
<rect x="1842.4" y="698.9" width="27.3" height="5.1" fill="#ee1c23" opacity="0.4"/>
<rect x="1842.4" y="710" width="27.3" height="4.3" fill="#ee1c23" opacity="0.45"/>
<rect x="1875.2" y="508.5" width="24.7" height="206.6" fill="#cccccc"/>
<rect x="1875.2" y="507.6" width="24.7" height="2.6" fill="#ee1c23"/>
<rect x="1875.2" y="612" width="24.7" height="2.1" fill="#ee1c23" opacity="0.8"/>
<rect x="1905" y="516.1" width="27.3" height="199" fill="#cccccc"/>
<rect x="1905" y="661" width="27.3" height="2.6" fill="#ee1c23"/>
<rect x="1935.3" y="499.5" width="29.4" height="215.6" fill="#cccccc"/>
<rect x="1935.3" y="633.7" width="29.4" height="2.1" fill="#ee1c23" opacity="0.25"/>
<rect x="1935.3" y="672.1" width="29.4" height="2.6" fill="#ee1c23"/>
<rect x="1935.3" y="688.3" width="29.4" height="5.1" fill="#ee1c23" opacity="0.6"/>
<rect x="1968.1" y="530.2" width="26.8" height="184.9" fill="#cccccc"/>
<rect x="2000.5" y="491.4" width="27.3" height="223.7" fill="#cccccc"/>
<rect x="2030.7" y="447.5" width="26.8" height="267.6" fill="#cccccc"/>
<rect x="2063.5" y="436.5" width="26.8" height="278.6" fill="#cccccc"/>
<rect x="2063.5" y="456.1" width="26.8" height="2.6" fill="#ee1c23" opacity="0.8"/>
<rect x="2063.5" y="464.2" width="26.8" height="2.6" fill="#ee1c23" opacity="0.6"/>
<rect x="2063.5" y="469.7" width="26.8" height="3" fill="#ee1c23" opacity="0.85"/>
<rect x="2063.5" y="480.8" width="26.8" height="2.6" fill="#ee1c23" opacity="0.5"/>
<rect x="2095.5" y="527.6" width="25.1" height="187.5" fill="#cccccc"/>
<rect x="2126.2" y="498.7" width="26.8" height="216.4" fill="#cccccc"/>
<rect x="2159" y="546.8" width="24.7" height="168.3" fill="#cccccc"/>
<rect x="2159" y="683.2" width="24.7" height="2.1" fill="#ee1c23"/>
<rect x="2188.8" y="395.6" width="26.8" height="319.5" fill="#cccccc"/>
<rect x="2188.8" y="409.6" width="26.8" height="2.1" fill="#ee1c23" opacity="0.8"/>
<rect x="2188.8" y="431.8" width="26.8" height="5.1" fill="#ee1c23" opacity="0.45"/>
<rect x="2188.8" y="445.4" width="26.8" height="2.1" fill="#ee1c23" opacity="0.4"/>
<rect x="2188.8" y="450.5" width="26.8" height="2.1" fill="#ee1c23" opacity="0.4"/>
<rect x="2188.8" y="489.3" width="26.8" height="2.6" fill="#ee1c23"/>
<rect x="2188.8" y="498.7" width="26.8" height="3.4" fill="#ee1c23" opacity="0.3"/>
<rect x="2188.8" y="511" width="26.8" height="7.7" fill="#ee1c23" opacity="0.6"/>
<rect x="2188.8" y="521.3" width="26.8" height="3" fill="#ee1c23"/>
<rect x="2188.8" y="526.8" width="26.8" height="3" fill="#ee1c23"/>
<rect x="2188.8" y="532.3" width="26.8" height="3" fill="#ee1c23"/>
<rect x="2188.8" y="538.7" width="26.8" height="2.6" fill="#ee1c23" opacity="0.8"/>
<rect x="2188.8" y="545.5" width="26.8" height="3.4" fill="#ee1c23"/>
<rect x="2188.8" y="576.6" width="26.8" height="4.3" fill="#ee1c23" opacity="0.6"/>
<rect x="2188.8" y="582.2" width="26.8" height="4.3" fill="#ee1c23"/>
<rect x="2188.8" y="589.4" width="26.8" height="3" fill="#ee1c23"/>
<rect x="2188.8" y="614.1" width="26.8" height="8.9" fill="#ee1c23" opacity="0.95"/>
<rect x="2188.8" y="680.2" width="26.8" height="5.1" fill="#ee1c23"/>
<rect x="2188.8" y="687.8" width="26.8" height="3" fill="#ee1c23"/>
<rect x="2188.8" y="691.7" width="26.8" height="2.1" fill="#ee1c23" opacity="0.4"/>
<rect x="2219" y="485.9" width="29.4" height="229.2" fill="#cccccc"/>
<rect x="2219" y="499.5" width="29.4" height="2.6" fill="#ee1c23"/>
<rect x="2219" y="515.7" width="29.4" height="3.4" fill="#ee1c23" opacity="0.4"/>
<rect x="2219" y="524.2" width="29.4" height="5.5" fill="#ee1c23" opacity="0.85"/>
<rect x="2219" y="680.6" width="29.4" height="2.6" fill="#ee1c23" opacity="0.8"/>
</g>
<g font-size="30" text-anchor="middle" fill="#111">
<text transform="translate(1666 739.7) scale(0.77 1)">1</text>
<text transform="translate(1697.5 739.7) scale(0.77 1)">2</text>
<text transform="translate(1729.1 739.7) scale(0.77 1)">3</text>
<text transform="translate(1760.6 739.7) scale(0.77 1)">4</text>
<text transform="translate(1792.1 739.7) scale(0.77 1)">5</text>
<text transform="translate(1823.7 739.7) scale(0.77 1)">6</text>
<text transform="translate(1855.2 739.7) scale(0.77 1)">7</text>
<text transform="translate(1886.7 739.7) scale(0.77 1)">8</text>
<text transform="translate(1918.2 739.7) scale(0.77 1)">9</text>
<text transform="translate(1946.4 739.7) scale(0.72 1)">10</text>
<text transform="translate(1981.3 739.7) scale(0.72 1)">11</text>
<text transform="translate(2012.8 739.7) scale(0.72 1)">12</text>
<text transform="translate(2044.4 739.7) scale(0.72 1)">13</text>
<text transform="translate(2075.9 739.7) scale(0.72 1)">14</text>
<text transform="translate(2107.4 739.7) scale(0.72 1)">15</text>
<text transform="translate(2138.9 739.7) scale(0.72 1)">16</text>
<text transform="translate(2170.5 739.7) scale(0.72 1)">17</text>
<text transform="translate(2202 739.7) scale(0.72 1)">18</text>
<text transform="translate(2233.5 739.7) scale(0.72 1)">19</text>
</g>
<g>
<rect x="1643.4" y="895.9" width="27.3" height="223.7" fill="#cccccc"/>
<rect x="1643.4" y="901.4" width="27.3" height="9.8" fill="#ee1c23"/>
<rect x="1643.4" y="914.6" width="27.3" height="5.1" fill="#ee1c23"/>
<rect x="1643.4" y="923.2" width="27.3" height="4.7" fill="#ee1c23"/>
<rect x="1643.4" y="930.4" width="27.3" height="3" fill="#ee1c23" opacity="0.7"/>
<rect x="1643.4" y="935.9" width="27.3" height="2.6" fill="#ee1c23" opacity="0.8"/>
<rect x="1643.4" y="941.1" width="27.3" height="3.4" fill="#ee1c23" opacity="0.8"/>
<rect x="1643.4" y="947" width="27.3" height="2.6" fill="#ee1c23"/>
<rect x="1643.4" y="952.6" width="27.3" height="3" fill="#ee1c23" opacity="0.3"/>
<rect x="1643.4" y="958.1" width="27.3" height="2.6" fill="#ee1c23" opacity="0.8"/>
<rect x="1643.4" y="969.2" width="27.3" height="5.1" fill="#ee1c23"/>
<rect x="1643.4" y="993.9" width="27.3" height="2.1" fill="#ee1c23" opacity="0.8"/>
<rect x="1643.4" y="1032.2" width="27.3" height="2.1" fill="#ee1c23" opacity="0.8"/>
<rect x="1643.4" y="1036.9" width="27.3" height="2.6" fill="#ee1c23" opacity="0.8"/>
<rect x="1643.4" y="1042.5" width="27.3" height="2.6" fill="#ee1c23" opacity="0.9"/>
<rect x="1643.4" y="1048.4" width="27.3" height="5.1" fill="#ee1c23"/>
<rect x="1643.4" y="1056.1" width="27.3" height="3" fill="#ee1c23" opacity="0.5"/>
<rect x="1643.4" y="1086.8" width="27.3" height="2.1" fill="#ee1c23" opacity="0.6"/>
<rect x="1676.2" y="947.4" width="26.8" height="172.1" fill="#cccccc"/>
<rect x="1709" y="881.8" width="26.8" height="237.7" fill="#cccccc"/>
<rect x="1709" y="1059.5" width="26.8" height="3.4" fill="#ee1c23" opacity="0.6"/>
<rect x="1709" y="1070.6" width="26.8" height="2.6" fill="#ee1c23" opacity="0.9"/>
<rect x="1709" y="1100" width="26.8" height="2.6" fill="#ee1c23"/>
<rect x="1741.9" y="853.3" width="24.7" height="266.3" fill="#cccccc"/>
<rect x="1741.9" y="1018.6" width="24.7" height="2.1" fill="#ee1c23" opacity="0.8"/>
<rect x="1741.9" y="1051" width="24.7" height="2.6" fill="#ee1c23" opacity="0.9"/>
<rect x="1741.9" y="1056.9" width="24.7" height="2.1" fill="#ee1c23"/>
<rect x="1741.9" y="1097.8" width="24.7" height="1.7" fill="#ee1c23" opacity="0.8"/>
<rect x="1771.7" y="884.4" width="26.8" height="235.2" fill="#cccccc"/>
<rect x="1804.5" y="912.1" width="26.8" height="207.5" fill="#cccccc"/>
<rect x="1837.3" y="868.2" width="24.7" height="251.4" fill="#cccccc"/>
<rect x="1837.3" y="1081.7" width="24.7" height="1.7" fill="#ee1c23" opacity="0.35"/>
<rect x="1837.3" y="1089.3" width="24.7" height="2.6" fill="#ee1c23"/>
<rect x="1837.3" y="1097.4" width="24.7" height="2.1" fill="#ee1c23" opacity="0.8"/>
<rect x="1867.1" y="912.1" width="26.8" height="207.5" fill="#cccccc"/>
<rect x="1867.1" y="939.3" width="26.8" height="2.6" fill="#ee1c23"/>
<rect x="1899.9" y="920.2" width="26.8" height="199.4" fill="#cccccc"/>
<rect x="1932.7" y="904" width="26.8" height="215.6" fill="#cccccc"/>
<rect x="1932.7" y="915.1" width="26.8" height="2.1" fill="#ee1c23" opacity="0.7"/>
<rect x="1932.7" y="936.8" width="26.8" height="2.1" fill="#ee1c23" opacity="0.4"/>
<rect x="1932.7" y="944.9" width="26.8" height="2.1" fill="#ee1c23" opacity="0.8"/>
<rect x="1932.7" y="977.7" width="26.8" height="2.1" fill="#ee1c23" opacity="0.35"/>
<rect x="1932.7" y="993.9" width="26.8" height="3.8" fill="#ee1c23" opacity="0.95"/>
<rect x="1932.7" y="1010.5" width="26.8" height="4.3" fill="#ee1c23" opacity="0.5"/>
<rect x="1962.6" y="933.8" width="26.8" height="185.8" fill="#cccccc"/>
<rect x="1962.6" y="944.9" width="26.8" height="7.7" fill="#ee1c23"/>
<rect x="1962.6" y="954.7" width="26.8" height="2.1" fill="#ee1c23" opacity="0.5"/>
<rect x="1962.6" y="958.1" width="26.8" height="3" fill="#ee1c23"/>
<rect x="1962.6" y="963.6" width="26.8" height="2.6" fill="#ee1c23" opacity="0.9"/>
<rect x="1962.6" y="977.7" width="26.8" height="2.1" fill="#ee1c23" opacity="0.7"/>
<rect x="1962.6" y="1002.4" width="26.8" height="2.1" fill="#ee1c23" opacity="0.4"/>
<rect x="1962.6" y="1024.1" width="26.8" height="2.1" fill="#ee1c23" opacity="0.8"/>
<rect x="1962.6" y="1047.1" width="26.8" height="2.6" fill="#ee1c23" opacity="0.12"/>
<rect x="1962.6" y="1076.1" width="26.8" height="5.1" fill="#ee1c23" opacity="0.95"/>
<rect x="1995.4" y="895.9" width="26.8" height="223.7" fill="#cccccc"/>
<rect x="1995.4" y="1040.3" width="26.8" height="2.1" fill="#ee1c23" opacity="0.9"/>
<rect x="1995.4" y="1076.1" width="26.8" height="5.1" fill="#ee1c23" opacity="0.6"/>
<rect x="2028.2" y="852" width="25.6" height="267.6" fill="#cccccc"/>
<rect x="2028.2" y="890.4" width="25.6" height="2.6" fill="#ee1c23"/>
<rect x="2028.2" y="908.7" width="25.6" height="3" fill="#ee1c23" opacity="0.5"/>
<rect x="2028.2" y="939.3" width="25.6" height="2.1" fill="#ee1c23" opacity="0.35"/>
<rect x="2028.2" y="981.1" width="25.6" height="4.3" fill="#ee1c23" opacity="0.4"/>
<rect x="2028.2" y="1037.3" width="25.6" height="2.6" fill="#ee1c23" opacity="0.8"/>
<rect x="2028.2" y="1045.9" width="25.6" height="2.6" fill="#ee1c23" opacity="0.7"/>
<rect x="2058" y="840.9" width="26.8" height="278.6" fill="#cccccc"/>
<rect x="2090.8" y="933.8" width="26.8" height="185.8" fill="#cccccc"/>
<rect x="2090.8" y="1013.1" width="26.8" height="2.1" fill="#ee1c23" opacity="0.7"/>
<rect x="2123.2" y="904" width="27.3" height="215.6" fill="#cccccc"/>
<rect x="2123.2" y="942.3" width="27.3" height="5.1" fill="#ee1c23" opacity="0.9"/>
<rect x="2123.2" y="958.5" width="27.3" height="2.6" fill="#ee1c23" opacity="0.9"/>
<rect x="2123.2" y="1032.2" width="27.3" height="2.1" fill="#ee1c23" opacity="0.45"/>
<rect x="2123.2" y="1073.1" width="27.3" height="2.6" fill="#ee1c23"/>
<rect x="2123.2" y="1095.3" width="27.3" height="4.7" fill="#ee1c23" opacity="0.35"/>
<rect x="2156" y="953" width="24.7" height="166.6" fill="#cccccc"/>
<rect x="2156" y="1051" width="24.7" height="2.6" fill="#ee1c23" opacity="0.5"/>
<rect x="2156" y="1059.5" width="24.7" height="2.6" fill="#ee1c23" opacity="0.9"/>
<rect x="2156" y="1067.6" width="24.7" height="2.6" fill="#ee1c23"/>
<rect x="2156" y="1075.7" width="24.7" height="2.6" fill="#ee1c23" opacity="0.9"/>
<rect x="2185.8" y="802.6" width="27.3" height="317" fill="#cccccc"/>
<rect x="2185.8" y="1015.6" width="27.3" height="2.6" fill="#ee1c23"/>
<rect x="2185.8" y="1048.4" width="27.3" height="2.6" fill="#ee1c23"/>
<rect x="2218.6" y="892.9" width="27.3" height="226.7" fill="#cccccc"/>
<rect x="2218.6" y="904" width="27.3" height="2.1" fill="#ee1c23" opacity="0.5"/>
<rect x="2218.6" y="1034.8" width="27.3" height="2.6" fill="#ee1c23" opacity="0.5"/>
<rect x="2218.6" y="1089.7" width="27.3" height="2.1" fill="#ee1c23"/>
</g>
<g font-size="27.5" text-anchor="middle" fill="#111">
<text transform="translate(1656.2 1143.7) scale(0.77 1)">1</text>
<text transform="translate(1687.9 1143.7) scale(0.77 1)">2</text>
<text transform="translate(1719.6 1143.7) scale(0.77 1)">3</text>
<text transform="translate(1751.4 1143.7) scale(0.77 1)">4</text>
<text transform="translate(1783.1 1143.7) scale(0.77 1)">5</text>
<text transform="translate(1814.8 1143.7) scale(0.77 1)">6</text>
<text transform="translate(1846.5 1143.7) scale(0.77 1)">7</text>
<text transform="translate(1878.2 1143.7) scale(0.77 1)">8</text>
<text transform="translate(1909.9 1143.7) scale(0.77 1)">9</text>
<text transform="translate(1938.3 1143.7) scale(0.72 1)">10</text>
<text transform="translate(1973.4 1143.7) scale(0.72 1)">11</text>
<text transform="translate(2005.1 1143.7) scale(0.72 1)">12</text>
<text transform="translate(2036.8 1143.7) scale(0.72 1)">13</text>
<text transform="translate(2068.5 1143.7) scale(0.72 1)">14</text>
<text transform="translate(2100.2 1143.7) scale(0.72 1)">15</text>
<text transform="translate(2132 1143.7) scale(0.72 1)">16</text>
<text transform="translate(2163.7 1143.7) scale(0.72 1)">17</text>
<text transform="translate(2195.4 1143.7) scale(0.72 1)">18</text>
<text transform="translate(2227.1 1143.7) scale(0.72 1)">19</text>
</g>
<g>
<rect x="1646.4" y="1317.2" width="26.8" height="222.4" fill="#cccccc"/>
<rect x="1646.4" y="1321.4" width="26.8" height="5.5" fill="#ee1c23"/>
<rect x="1646.4" y="1327.8" width="26.8" height="12.8" fill="#ee1c23" opacity="0.75"/>
<rect x="1646.4" y="1343.2" width="26.8" height="6" fill="#ee1c23" opacity="0.95"/>
<rect x="1646.4" y="1351.3" width="26.8" height="3" fill="#ee1c23" opacity="0.7"/>
<rect x="1646.4" y="1356.8" width="26.8" height="7.2" fill="#ee1c23" opacity="0.9"/>
<rect x="1646.4" y="1367" width="26.8" height="2.6" fill="#ee1c23" opacity="0.8"/>
<rect x="1646.4" y="1371.3" width="26.8" height="4.3" fill="#ee1c23" opacity="0.7"/>
<rect x="1646.4" y="1378.1" width="26.8" height="3" fill="#ee1c23"/>
<rect x="1646.4" y="1389.6" width="26.8" height="5.5" fill="#ee1c23" opacity="0.8"/>
<rect x="1646.4" y="1414.3" width="26.8" height="2.1" fill="#ee1c23" opacity="0.3"/>
<rect x="1646.4" y="1452.2" width="26.8" height="2.6" fill="#ee1c23" opacity="0.9"/>
<rect x="1646.4" y="1457.8" width="26.8" height="2.1" fill="#ee1c23" opacity="0.7"/>
<rect x="1646.4" y="1462.5" width="26.8" height="2.6" fill="#ee1c23" opacity="0.8"/>
<rect x="1646.4" y="1468.4" width="26.8" height="6.4" fill="#ee1c23"/>
<rect x="1646.4" y="1475.7" width="26.8" height="4.3" fill="#ee1c23" opacity="0.5"/>
<rect x="1646.4" y="1504.6" width="26.8" height="3" fill="#ee1c23" opacity="0.7"/>
<rect x="1679.2" y="1367.9" width="26.8" height="171.7" fill="#cccccc"/>
<rect x="1711.6" y="1302.3" width="26.8" height="237.3" fill="#cccccc"/>
<rect x="1711.6" y="1479.5" width="26.8" height="3.4" fill="#ee1c23" opacity="0.9"/>
<rect x="1711.6" y="1484.6" width="26.8" height="2.6" fill="#ee1c23" opacity="0.4"/>
<rect x="1711.6" y="1490.6" width="26.8" height="2.6" fill="#ee1c23" opacity="0.45"/>
<rect x="1711.6" y="1520.4" width="26.8" height="2.6" fill="#ee1c23"/>
<rect x="1741.9" y="1274.1" width="26.8" height="265.4" fill="#cccccc"/>
<rect x="1741.9" y="1439" width="26.8" height="2.6" fill="#ee1c23"/>
<rect x="1741.9" y="1468.8" width="26.8" height="5.1" fill="#ee1c23" opacity="0.7"/>
<rect x="1741.9" y="1476.9" width="26.8" height="3" fill="#ee1c23"/>
<rect x="1741.9" y="1517.8" width="26.8" height="2.6" fill="#ee1c23"/>
<rect x="1774.2" y="1304.8" width="27.3" height="234.8" fill="#cccccc"/>
<rect x="1807" y="1332.1" width="26.8" height="207.5" fill="#cccccc"/>
<rect x="1837.3" y="1288.6" width="26.8" height="251" fill="#cccccc"/>
<rect x="1837.3" y="1501.2" width="26.8" height="2.6" fill="#ee1c23" opacity="0.9"/>
<rect x="1837.3" y="1509.3" width="26.8" height="3" fill="#ee1c23" opacity="0.7"/>
<rect x="1837.3" y="1517.8" width="26.8" height="2.6" fill="#ee1c23"/>
<rect x="1870.1" y="1332.1" width="26.8" height="207.5" fill="#cccccc"/>
<rect x="1870.1" y="1359.3" width="26.8" height="2.6" fill="#ee1c23"/>
<rect x="1902.5" y="1340.6" width="26.8" height="199" fill="#cccccc"/>
<rect x="1932.7" y="1324" width="26.8" height="215.6" fill="#cccccc"/>
<rect x="1932.7" y="1335.1" width="26.8" height="2.6" fill="#ee1c23" opacity="0.9"/>
<rect x="1932.7" y="1356.8" width="26.8" height="1.7" fill="#ee1c23" opacity="0.15"/>
<rect x="1932.7" y="1364.9" width="26.8" height="2.6" fill="#ee1c23" opacity="0.9"/>
<rect x="1932.7" y="1398.1" width="26.8" height="2.1" fill="#ee1c23" opacity="0.6"/>
<rect x="1932.7" y="1414.3" width="26.8" height="5.5" fill="#ee1c23"/>
<rect x="1932.7" y="1430.5" width="26.8" height="2.1" fill="#ee1c23" opacity="0.3"/>
<rect x="1932.7" y="1433.1" width="26.8" height="2.6" fill="#ee1c23" opacity="0.8"/>
<rect x="1965.1" y="1355.5" width="27.3" height="184.1" fill="#cccccc"/>
<rect x="1965.1" y="1364.9" width="27.3" height="7.7" fill="#ee1c23" opacity="0.95"/>
<rect x="1965.1" y="1374.7" width="27.3" height="2.6" fill="#ee1c23" opacity="0.8"/>
<rect x="1965.1" y="1378.1" width="27.3" height="3.8" fill="#ee1c23" opacity="0.9"/>
<rect x="1965.1" y="1384.1" width="27.3" height="2.6" fill="#ee1c23"/>
<rect x="1965.1" y="1397.7" width="27.3" height="2.6" fill="#ee1c23"/>
<rect x="1965.1" y="1425" width="27.3" height="2.6" fill="#ee1c23" opacity="0.3"/>
<rect x="1965.1" y="1444.1" width="27.3" height="3" fill="#ee1c23" opacity="0.7"/>
<rect x="1965.1" y="1468.8" width="27.3" height="2.1" fill="#ee1c23" opacity="0.7"/>
<rect x="1965.1" y="1498.7" width="27.3" height="3" fill="#ee1c23"/>
<rect x="1995.8" y="1317.6" width="29" height="222" fill="#cccccc"/>
<rect x="1995.8" y="1460.3" width="29" height="2.6" fill="#ee1c23"/>
<rect x="1995.8" y="1495.7" width="29" height="3.4" fill="#ee1c23"/>
<rect x="1995.8" y="1499.5" width="29" height="2.1" fill="#ee1c23" opacity="0.5"/>
<rect x="2028.2" y="1272.4" width="26.8" height="267.1" fill="#cccccc"/>
<rect x="2028.2" y="1310.4" width="26.8" height="2.6" fill="#ee1c23" opacity="0.7"/>
<rect x="2028.2" y="1329.5" width="26.8" height="2.6" fill="#ee1c23" opacity="0.9"/>
<rect x="2028.2" y="1359.8" width="26.8" height="2.1" fill="#ee1c23" opacity="0.6"/>
<rect x="2028.2" y="1403.2" width="26.8" height="2.6" fill="#ee1c23" opacity="0.7"/>
<rect x="2028.2" y="1457.8" width="26.8" height="2.1" fill="#ee1c23" opacity="0.6"/>
<rect x="2028.2" y="1466.3" width="26.8" height="2.1" fill="#ee1c23" opacity="0.6"/>
<rect x="2061" y="1261.4" width="26.8" height="278.2" fill="#cccccc"/>
<rect x="2091.2" y="1354.2" width="29" height="185.3" fill="#cccccc"/>
<rect x="2091.2" y="1433.1" width="29" height="2.6" fill="#ee1c23"/>
<rect x="2123.6" y="1324" width="26.8" height="215.6" fill="#cccccc"/>
<rect x="2123.6" y="1364.9" width="26.8" height="2.6" fill="#ee1c23"/>
<rect x="2123.6" y="1378.5" width="26.8" height="3" fill="#ee1c23"/>
<rect x="2123.6" y="1452.2" width="26.8" height="2.1" fill="#ee1c23" opacity="0.2"/>
<rect x="2123.6" y="1493.1" width="26.8" height="2.6" fill="#ee1c23"/>
<rect x="2123.6" y="1515.3" width="26.8" height="2.6" fill="#ee1c23" opacity="0.6"/>
<rect x="2156" y="1373" width="27.3" height="166.6" fill="#cccccc"/>
<rect x="2156" y="1471" width="27.3" height="2.6" fill="#ee1c23" opacity="0.35"/>
<rect x="2156" y="1479.5" width="27.3" height="3" fill="#ee1c23" opacity="0.6"/>
<rect x="2156" y="1487.6" width="27.3" height="3" fill="#ee1c23" opacity="0.9"/>
<rect x="2156" y="1495.7" width="27.3" height="3" fill="#ee1c23" opacity="0.7"/>
<rect x="2186.7" y="1223" width="29" height="316.6" fill="#cccccc"/>
<rect x="2186.7" y="1436" width="29" height="2.6" fill="#ee1c23"/>
<rect x="2186.7" y="1468.8" width="29" height="2.1" fill="#ee1c23" opacity="0.6"/>
<rect x="2219" y="1312.9" width="26.8" height="226.7" fill="#cccccc"/>
<rect x="2219" y="1324" width="26.8" height="2.6" fill="#ee1c23" opacity="0.7"/>
<rect x="2219" y="1454.8" width="26.8" height="3" fill="#ee1c23"/>
<rect x="2219" y="1509.7" width="26.8" height="2.6" fill="#ee1c23" opacity="0.9"/>
</g>
<g font-size="29" text-anchor="middle" fill="#111">
<text transform="translate(1659.6 1566.5) scale(0.77 1)">1</text>
<text transform="translate(1691.3 1566.5) scale(0.77 1)">2</text>
<text transform="translate(1723 1566.5) scale(0.77 1)">3</text>
<text transform="translate(1754.7 1566.5) scale(0.77 1)">4</text>
<text transform="translate(1786.4 1566.5) scale(0.77 1)">5</text>
<text transform="translate(1818.1 1566.5) scale(0.77 1)">6</text>
<text transform="translate(1849.8 1566.5) scale(0.77 1)">7</text>
<text transform="translate(1881.5 1566.5) scale(0.77 1)">8</text>
<text transform="translate(1913.2 1566.5) scale(0.77 1)">9</text>
<text transform="translate(1941.5 1566.5) scale(0.72 1)">10</text>
<text transform="translate(1976.6 1566.5) scale(0.72 1)">11</text>
<text transform="translate(2008.3 1566.5) scale(0.72 1)">12</text>
<text transform="translate(2040 1566.5) scale(0.72 1)">13</text>
<text transform="translate(2071.7 1566.5) scale(0.72 1)">14</text>
<text transform="translate(2103.4 1566.5) scale(0.72 1)">15</text>
<text transform="translate(2135.1 1566.5) scale(0.72 1)">16</text>
<text transform="translate(2166.8 1566.5) scale(0.72 1)">17</text>
<text transform="translate(2198.5 1566.5) scale(0.72 1)">18</text>
<text transform="translate(2230.2 1566.5) scale(0.72 1)">19</text>
</g>
<text transform="translate(1949 1604.5)" font-size="29" text-anchor="middle" id="chromlab" textLength="196" lengthAdjust="spacingAndGlyphs">Chromosomes</text>
<text transform="translate(44.5 1754.5) scale(1.063 1)" font-size="68" id="titleB">B. Geographic distribution of vine utilization</text>
<rect x="30.5" y="1795" width="2271" height="1518" fill="none" stroke="#939598" stroke-width="3"/>
<rect x="32" y="1796.5" width="2.4" height="1515" fill="#f0f0f0"/>
<rect x="32" y="1796.5" width="2268" height="2.2" fill="#f0f0f0"/>
<path d="M426 2256 V1806.5 H1647.5 V2256" fill="none" stroke="#dedede" stroke-width="2"/>
<line x1="426" y1="1806.5" x2="426" y2="2256" stroke="#b0b0b0" stroke-width="2"/>
<line x1="426" y1="2256" x2="1647.5" y2="2256" stroke="#ececec" stroke-width="2"/>
<line x1="426" y1="2256" x2="426" y2="2708.5" stroke="#e6e6e6" stroke-width="2"/>
<line x1="1647.5" y1="2256" x2="1647.5" y2="3160" stroke="#a8a8a8" stroke-width="2.4"/>
<line x1="425" y1="2708.6" x2="1649" y2="2708.6" stroke="#4a4a4a" stroke-width="2.6"/>
<line x1="426" y1="2708.5" x2="426" y2="3160" stroke="#e0e0e0" stroke-width="2"/>
<line x1="425" y1="3160.2" x2="1649" y2="3160.2" stroke="#8c8c8c" stroke-width="2.6"/>
<rect x="443.9" y="2006.2" width="98" height="245.9" fill="#ffa000"/>
<rect x="552.6" y="2144.3" width="98.4" height="107.8" fill="#f0e838"/>
<rect x="659.5" y="2066.7" width="101.8" height="185.4" fill="#88b4dc"/>
<rect x="770.3" y="2215.9" width="98.4" height="36.2" fill="#88cc68"/>
<rect x="877.2" y="2195.8" width="101" height="56.3" fill="#7e409a"/>
<rect x="986.8" y="1998.6" width="100.2" height="253.5" fill="#b4b6b4"/>
<rect x="1098" y="1960.2" width="98.4" height="291.9" fill="#008844"/>
<rect x="1207.1" y="2137" width="98.4" height="115.1" fill="#ff8c69"/>
<rect x="1316.2" y="1941" width="98.4" height="311.1" fill="#943034"/>
<rect x="1425.3" y="2115.8" width="100.5" height="136.3" fill="#ff1820"/>
<rect x="1533.9" y="2208.6" width="101.4" height="43.5" fill="#ac9838"/>
<rect x="443.9" y="2599.2" width="101" height="103.5" fill="#ffa000"/>
<rect x="555.5" y="2452.2" width="98.5" height="250.5" fill="#f0e838"/>
<rect x="662" y="2563.8" width="102.3" height="138.9" fill="#88b4dc"/>
<rect x="771.6" y="2462.4" width="100.5" height="240.3" fill="#88cc68"/>
<rect x="882.8" y="2415.5" width="98.4" height="287.2" fill="#7e409a"/>
<rect x="991.9" y="2591" width="98.9" height="111.7" fill="#b4b6b4"/>
<rect x="1101" y="2637.1" width="101" height="65.6" fill="#008844"/>
<rect x="1212.2" y="2664.4" width="98.8" height="38.3" fill="#ff8c69"/>
<rect x="1319.6" y="2617.9" width="100.5" height="84.8" fill="#943034"/>
<rect x="1430.8" y="2492.2" width="98.8" height="210.5" fill="#ff1820"/>
<rect x="1538.6" y="2369.5" width="102.2" height="333.2" fill="#ac9838"/>
<rect x="443.9" y="3120.1" width="101" height="35.8" fill="#ffa000"/>
<rect x="555.5" y="3095.8" width="98.5" height="60.1" fill="#f0e838"/>
<rect x="662" y="3150.4" width="103.6" height="5.5" fill="#88b4dc"/>
<rect x="773.3" y="3124.8" width="100.9" height="31.1" fill="#88cc68"/>
<rect x="882.8" y="3089.9" width="101" height="66" fill="#7e409a"/>
<rect x="993.6" y="3113.3" width="99.3" height="42.6" fill="#b4b6b4"/>
<rect x="1103.6" y="3123.1" width="98.8" height="32.8" fill="#008844"/>
<rect x="1321.7" y="3128.6" width="100.6" height="27.3" fill="#943034"/>
<rect x="1431.6" y="3118.8" width="100.2" height="37.1" fill="#ff1820"/>
<rect x="1540.3" y="3115" width="102.7" height="40.9" fill="#ac9838"/>
<g font-size="40" text-anchor="middle" fill="#1a1a1a">
<text transform="translate(390.5 1842.3) scale(0.78 1)">100</text>
<text transform="translate(390.5 1945.8) scale(0.78 1)">75</text>
<text transform="translate(390.5 2049.3) scale(0.78 1)">50</text>
<text transform="translate(390.5 2152.8) scale(0.78 1)">25</text>
<text transform="translate(390.5 2256.3) scale(0.78 1)">0</text>
<text transform="translate(390.5 2293.3) scale(0.78 1)">100</text>
<text transform="translate(390.5 2396.8) scale(0.78 1)">75</text>
<text transform="translate(390.5 2500.3) scale(0.78 1)">50</text>
<text transform="translate(390.5 2603.8) scale(0.78 1)">25</text>
<text transform="translate(390.5 2707.3) scale(0.78 1)">0</text>
<text transform="translate(390.5 2744.3) scale(0.78 1)">100</text>
<text transform="translate(390.5 2847.8) scale(0.78 1)">75</text>
<text transform="translate(390.5 2951.3) scale(0.78 1)">50</text>
<text transform="translate(390.5 3054.8) scale(0.78 1)">25</text>
<text transform="translate(390.5 3158.3) scale(0.78 1)">0</text>
</g>
<text transform="translate(293.5 2708) rotate(-90) scale(0.962 1)" font-size="70" id="ylab">Percentage %</text>
<text transform="translate(1695.5 2031.5)" font-size="68.7" id="bT">Table (T)</text>
<text transform="translate(1697 2529)" font-size="68.7" id="bW">Wine (W)</text>
<text transform="translate(1691.5 2933)" font-size="68.7" id="bD">Double (T-W)</text>
<text transform="translate(519.4 3191) rotate(-60) scale(0.790 1)" font-size="47" font-weight="bold" fill="#ffa000" text-anchor="end">ARM</text>
<text transform="translate(617.8 3185) rotate(-60) scale(0.790 1)" font-size="47" font-weight="bold" fill="#f0e838" text-anchor="end">BALK</text>
<text transform="translate(733.1 3184) rotate(-60) scale(0.790 1)" font-size="47" font-weight="bold" fill="#88b4dc" text-anchor="end">EMCA</text>
<text transform="translate(846.9 3191) rotate(-60) scale(0.790 1)" font-size="47" font-weight="bold" fill="#88cc68" text-anchor="end">IBER</text>
<text transform="translate(957 3191) rotate(-60) scale(0.790 1)" font-size="47" font-weight="bold" fill="#7e409a" text-anchor="end">ITAP</text>
<text transform="translate(1062.8 3184) rotate(-60) scale(0.790 1)" font-size="47" font-weight="bold" fill="#b4b6b4" text-anchor="end">MAGH</text>
<text transform="translate(1172 3191) rotate(-60) scale(0.790 1)" font-size="47" font-weight="bold" fill="#008844" text-anchor="end">MFEA</text>
<text transform="translate(1279.6 3199.5) rotate(-60) scale(0.790 1)" font-size="47" font-weight="bold" fill="#ff8c69" text-anchor="end">nd</text>
<text transform="translate(1387.8 3182) rotate(-60) scale(0.790 1)" font-size="47" font-weight="bold" fill="#943034" text-anchor="end">NEWO</text>
<text transform="translate(1507.2 3186) rotate(-60) scale(0.790 1)" font-size="47" font-weight="bold" fill="#ff1820" text-anchor="end">RUUK</text>
<text transform="translate(1610.7 3191) rotate(-60) scale(0.790 1)" font-size="47" font-weight="bold" fill="#ac9838" text-anchor="end">WCEU</text>
</svg>
</body></html>
